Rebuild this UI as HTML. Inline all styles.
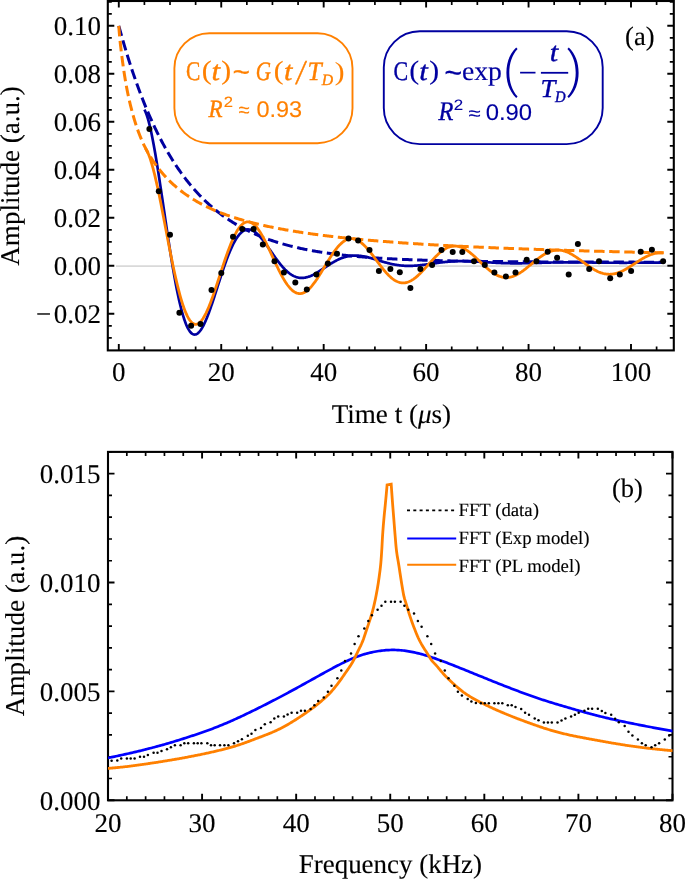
<!DOCTYPE html>
<html><head><meta charset="utf-8"><style>
html,body{margin:0;padding:0;background:#fff;}
svg{display:block;will-change:transform;text-rendering:geometricPrecision;}
</style></head><body>
<svg width="685" height="879" viewBox="0 0 685 879">
<path d="M116,266.1H667" stroke="#d9d9d9" stroke-width="1.8"/>
<path d="M118.8,25.8 119.71,29.14 120.62,32.42 121.53,35.67 122.44,38.86 123.35,42.01 124.26,45.12 125.17,48.18 126.08,51.2 126.99,54.18 127.9,57.12 128.81,60.01 129.72,62.86 130.63,65.67 131.54,68.45 132.45,71.18 133.36,73.88 134.27,76.53 135.18,79.15 136.09,81.74 137,84.28 137.91,86.79 138.82,89.27 139.73,91.71 140.64,94.11 141.55,96.49 142.46,98.82 143.37,101.13 144.27,103.4 145.18,105.64 146.09,107.85 147,110.03 147.91,112.18 148.82,114.29 149.73,116.38 150.64,118.44 151.55,120.47 152.46,122.47 153.37,124.44 154.28,126.38 155.19,128.3 156.1,130.19 157.01,132.05 157.92,133.89 158.83,135.7 159.74,137.48 160.65,139.24 161.56,140.98 162.47,142.69 163.38,144.37 164.29,146.04 165.2,147.67 166.11,149.29 167.02,150.88 167.93,152.45 168.84,154 169.75,155.53 170.66,157.03 171.57,158.52 172.48,159.98 173.39,161.42 174.3,162.85 175.21,164.25 176.12,165.63 177.03,166.99 177.94,168.34 178.85,169.66 179.76,170.97 180.67,172.25 181.58,173.52 182.49,174.77 183.4,176.01 184.31,177.22 185.22,178.42 186.13,179.6 187.04,180.77 187.95,181.92 188.86,183.05 189.77,184.17 190.68,185.27 191.59,186.35 192.5,187.42 193.41,188.48 194.31,189.52 195.22,190.55 196.13,191.56 197.04,192.55 197.95,193.54 198.86,194.5 199.77,195.46 200.68,196.4 201.59,197.33 202.5,198.25 203.41,199.15 204.32,200.04 205.23,200.91 206.14,201.78 207.05,202.63 207.96,203.47 208.87,204.3 209.78,205.12 210.69,205.92 211.6,206.72 212.51,207.5 213.42,208.27 214.33,209.03 215.24,209.78 216.15,210.52 217.06,211.25 217.97,211.97 218.88,212.68 219.79,213.38 220.7,214.07 221.61,214.75 222.52,215.42 223.43,216.08 224.34,216.73 225.25,217.37 226.16,218 227.07,218.62 227.98,219.24 228.89,219.85 229.8,220.44 230.71,221.03 231.62,221.61 232.53,222.19 233.44,222.75 234.35,223.31 235.26,223.86 236.17,224.4 237.08,224.93 237.99,225.46 238.9,225.97 239.81,226.49 240.72,226.99 241.63,227.49 242.54,227.98 243.45,228.46 244.35,228.94 245.26,229.4 246.17,229.87 247.08,230.32 247.99,230.77 248.9,231.22 249.81,231.65 250.72,232.08 251.63,232.51 252.54,232.93 253.45,233.34 254.36,233.75 255.27,234.15 256.18,234.55 257.09,234.94 258,235.32 258.91,235.7 259.82,236.07 260.73,236.44 261.64,236.81 262.55,237.16 263.46,237.52 264.37,237.87 265.28,238.21 266.19,238.55 267.1,238.88 268.01,239.21 268.92,239.54 269.83,239.85 270.74,240.17 271.65,240.48 272.56,240.79 273.47,241.09 274.38,241.39 275.29,241.68 276.2,241.97 277.11,242.26 278.02,242.54 278.93,242.81 279.84,243.09 280.75,243.36 281.66,243.62 282.57,243.89 283.48,244.14 284.39,244.4 285.3,244.65 286.21,244.9 287.12,245.14 288.03,245.38 288.94,245.62 289.85,245.85 290.76,246.08 291.67,246.31 292.58,246.54 293.48,246.76 294.39,246.98 295.3,247.19 296.21,247.4 297.12,247.61 298.03,247.82 298.94,248.02 299.85,248.22 300.76,248.42 301.67,248.61 302.58,248.8 303.49,248.99 304.4,249.18 305.31,249.36 306.22,249.54 307.13,249.72 308.04,249.9 308.95,250.07 309.86,250.24 310.77,250.41 311.68,250.58 312.59,250.74 313.5,250.9 314.41,251.06 315.32,251.22 316.23,251.37 317.14,251.53 318.05,251.68 318.96,251.83 319.87,251.97 320.78,252.12 321.69,252.26 322.6,252.4 323.51,252.54 324.42,252.67 325.33,252.81 326.24,252.94 327.15,253.07 328.06,253.2 328.97,253.33 329.88,253.45 330.79,253.58 331.7,253.7 332.61,253.82 333.52,253.94 334.43,254.05 335.34,254.17 336.25,254.28 337.16,254.39 338.07,254.5 338.98,254.61 339.89,254.72 340.8,254.82 341.71,254.93 342.62,255.03 343.52,255.13 344.43,255.23 345.34,255.33 346.25,255.43 347.16,255.52 348.07,255.62 348.98,255.71 349.89,255.8 350.8,255.89 351.71,255.98 352.62,256.07 353.53,256.15 354.44,256.24 355.35,256.32 356.26,256.41 357.17,256.49 358.08,256.57 358.99,256.65 359.9,256.73 360.81,256.8 361.72,256.88 362.63,256.96 363.54,257.03 364.45,257.1 365.36,257.17 366.27,257.25 367.18,257.32 368.09,257.38 369,257.45 369.91,257.52 370.82,257.59 371.73,257.65 372.64,257.71 373.55,257.78 374.46,257.84 375.37,257.9 376.28,257.96 377.19,258.02 378.1,258.08 379.01,258.14 379.92,258.2 380.83,258.25 381.74,258.31 382.65,258.36 383.56,258.42 384.47,258.47 385.38,258.52 386.29,258.58 387.2,258.63 388.11,258.68 389.02,258.73 389.93,258.78 390.84,258.82 391.75,258.87 392.66,258.92 393.56,258.97 394.47,259.01 395.38,259.06 396.29,259.1 397.2,259.14 398.11,259.19 399.02,259.23 399.93,259.27 400.84,259.31 401.75,259.35 402.66,259.39 403.57,259.43 404.48,259.47 405.39,259.51 406.3,259.55 407.21,259.59 408.12,259.62 409.03,259.66 409.94,259.7 410.85,259.73 411.76,259.77 412.67,259.8 413.58,259.83 414.49,259.87 415.4,259.9 416.31,259.93 417.22,259.96 418.13,260 419.04,260.03 419.95,260.06 420.86,260.09 421.77,260.12 422.68,260.15 423.59,260.18 424.5,260.2 425.41,260.23 426.32,260.26 427.23,260.29 428.14,260.31 429.05,260.34 429.96,260.37 430.87,260.39 431.78,260.42 432.69,260.44 433.6,260.47 434.51,260.49 435.42,260.52 436.33,260.54 437.24,260.56 438.15,260.59 439.06,260.61 439.97,260.63 440.88,260.65 441.79,260.68 442.7,260.7 443.6,260.72 444.51,260.74 445.42,260.76 446.33,260.78 447.24,260.8 448.15,260.82 449.06,260.84 449.97,260.86 450.88,260.88 451.79,260.9 452.7,260.92 453.61,260.93 454.52,260.95 455.43,260.97 456.34,260.99 457.25,261 458.16,261.02 459.07,261.04 459.98,261.05 460.89,261.07 461.8,261.09 462.71,261.1 463.62,261.12 464.53,261.13 465.44,261.15 466.35,261.16 467.26,261.18 468.17,261.19 469.08,261.21 469.99,261.22 470.9,261.23 471.81,261.25 472.72,261.26 473.63,261.27 474.54,261.29 475.45,261.3 476.36,261.31 477.27,261.32 478.18,261.34 479.09,261.35 480,261.36 480.91,261.37 481.82,261.38 482.73,261.4 483.64,261.41 484.55,261.42 485.46,261.43 486.37,261.44 487.28,261.45 488.19,261.46 489.1,261.47 490.01,261.48 490.92,261.49 491.83,261.5 492.74,261.51 493.64,261.52 494.55,261.53 495.46,261.54 496.37,261.55 497.28,261.56 498.19,261.57 499.1,261.58 500.01,261.59 500.92,261.6 501.83,261.6 502.74,261.61 503.65,261.62 504.56,261.63 505.47,261.64 506.38,261.64 507.29,261.65 508.2,261.66 509.11,261.67 510.02,261.68 510.93,261.68 511.84,261.69 512.75,261.7 513.66,261.7 514.57,261.71 515.48,261.72 516.39,261.72 517.3,261.73 518.21,261.74 519.12,261.74 520.03,261.75 520.94,261.76 521.85,261.76 522.76,261.77 523.67,261.78 524.58,261.78 525.49,261.79 526.4,261.79 527.31,261.8 528.22,261.81 529.13,261.81 530.04,261.82 530.95,261.82 531.86,261.83 532.77,261.83 533.68,261.84 534.59,261.84 535.5,261.85 536.41,261.85 537.32,261.86 538.23,261.86 539.14,261.87 540.05,261.87 540.96,261.88 541.87,261.88 542.78,261.89 543.68,261.89 544.59,261.89 545.5,261.9 546.41,261.9 547.32,261.91 548.23,261.91 549.14,261.92 550.05,261.92 550.96,261.92 551.87,261.93 552.78,261.93 553.69,261.93 554.6,261.94 555.51,261.94 556.42,261.95 557.33,261.95 558.24,261.95 559.15,261.96 560.06,261.96 560.97,261.96 561.88,261.97 562.79,261.97 563.7,261.97 564.61,261.98 565.52,261.98 566.43,261.98 567.34,261.99 568.25,261.99 569.16,261.99 570.07,261.99 570.98,262 571.89,262 572.8,262 573.71,262.01 574.62,262.01 575.53,262.01 576.44,262.01 577.35,262.02 578.26,262.02 579.17,262.02 580.08,262.02 580.99,262.03 581.9,262.03 582.81,262.03 583.72,262.03 584.63,262.04 585.54,262.04 586.45,262.04 587.36,262.04 588.27,262.05 589.18,262.05 590.09,262.05 591,262.05 591.91,262.05 592.82,262.06 593.72,262.06 594.63,262.06 595.54,262.06 596.45,262.06 597.36,262.07 598.27,262.07 599.18,262.07 600.09,262.07 601,262.07 601.91,262.08 602.82,262.08 603.73,262.08 604.64,262.08 605.55,262.08 606.46,262.08 607.37,262.09 608.28,262.09 609.19,262.09 610.1,262.09 611.01,262.09 611.92,262.09 612.83,262.09 613.74,262.1 614.65,262.1 615.56,262.1 616.47,262.1 617.38,262.1 618.29,262.1 619.2,262.1 620.11,262.11 621.02,262.11 621.93,262.11 622.84,262.11 623.75,262.11 624.66,262.11 625.57,262.11 626.48,262.11 627.39,262.12 628.3,262.12 629.21,262.12 630.12,262.12 631.03,262.12 631.94,262.12 632.85,262.12 633.76,262.12 634.67,262.13 635.58,262.13 636.49,262.13 637.4,262.13 638.31,262.13 639.22,262.13 640.13,262.13 641.04,262.13 641.95,262.13 642.85,262.13 643.76,262.14 644.67,262.14 645.58,262.14 646.49,262.14 647.4,262.14 648.31,262.14 649.22,262.14 650.13,262.14 651.04,262.14 651.95,262.14 652.86,262.14 653.77,262.14 654.68,262.15 655.59,262.15 656.5,262.15 657.41,262.15 658.32,262.15 659.23,262.15 660.14,262.15 661.05,262.15 661.96,262.15 662.87,262.15 663.78,262.15" fill="none" stroke="#0000a0" stroke-width="3.0" stroke-dasharray="10.5 4.6"/>
<path d="M144.41,109.61 144.99,110.72 145.56,111.99 146.14,113.42 146.72,115.01 147.3,116.75 147.87,118.63 148.45,120.66 149.03,122.83 149.6,125.13 150.18,127.56 150.76,130.11 151.34,132.77 151.91,135.55 152.49,138.44 153.07,141.43 153.64,144.52 154.22,147.7 154.8,150.96 155.38,154.3 155.95,157.72 156.53,161.22 157.11,164.77 157.68,168.38 158.26,172.05 158.84,175.77 159.42,179.53 159.99,183.33 160.57,187.16 161.15,191.02 161.72,194.9 162.3,198.8 162.88,202.71 163.46,206.63 164.03,210.55 164.61,214.47 165.19,218.38 165.76,222.28 166.34,226.17 166.92,230.03 167.5,233.87 168.07,237.68 168.65,241.46 169.23,245.2 169.8,248.9 170.38,252.56 170.96,256.17 171.54,259.72 172.11,263.22 172.69,266.67 173.27,270.05 173.84,273.36 174.42,276.61 175,279.78 175.58,282.89 176.15,285.92 176.73,288.87 177.31,291.73 177.88,294.52 178.46,297.22 179.04,299.84 179.62,302.36 180.19,304.8 180.77,307.15 181.35,309.4 181.92,311.56 182.5,313.63 183.08,315.6 183.66,317.47 184.23,319.24 184.81,320.92 185.39,322.5 185.96,323.98 186.54,325.37 187.12,326.65 187.7,327.84 188.27,328.92 188.85,329.91 189.43,330.81 190,331.6 190.58,332.3 191.16,332.9 191.74,333.41 192.31,333.82 192.89,334.15 193.47,334.38 194.04,334.52 194.62,334.57 195.2,334.53 195.78,334.41 196.35,334.2 196.93,333.91 197.51,333.53 198.09,333.08 198.66,332.55 199.24,331.95 199.82,331.27 200.39,330.52 200.97,329.7 201.55,328.82 202.13,327.86 202.7,326.85 203.28,325.77 203.86,324.64 204.43,323.45 205.01,322.21 205.59,320.91 206.17,319.57 206.74,318.18 207.32,316.74 207.9,315.27 208.47,313.75 209.05,312.2 209.63,310.61 210.21,309 210.78,307.35 211.36,305.68 211.94,303.98 212.51,302.26 213.09,300.52 213.67,298.77 214.25,297 214.82,295.21 215.4,293.42 215.98,291.62 216.55,289.82 217.13,288.01 217.71,286.2 218.29,284.39 218.86,282.59 219.44,280.79 220.02,279 220.59,277.22 221.17,275.45 221.75,273.7 222.33,271.96 222.9,270.24 223.48,268.54 224.06,266.86 224.63,265.2 225.21,263.57 225.79,261.96 226.37,260.38 226.94,258.83 227.52,257.3 228.1,255.82 228.67,254.36 229.25,252.94 229.83,251.55 230.41,250.2 230.98,248.88 231.56,247.61 232.14,246.37 232.71,245.18 233.29,244.02 233.87,242.91 234.45,241.84 235.02,240.81 235.6,239.82 236.18,238.88 236.75,237.98 237.33,237.13 237.91,236.32 238.49,235.56 239.06,234.84 239.64,234.17 240.22,233.55 240.79,232.96 241.37,232.43 241.95,231.94 242.53,231.49 243.1,231.09 243.68,230.74 244.26,230.43 244.83,230.16 245.41,229.94 245.99,229.76 246.57,229.62 247.14,229.52 247.72,229.47 248.3,229.46 248.87,229.48 249.45,229.55 250.03,229.66 250.61,229.8 251.18,229.98 251.76,230.2 252.34,230.45 252.91,230.74 253.49,231.06 254.07,231.41 254.65,231.8 255.22,232.22 255.8,232.66 256.38,233.14 256.95,233.64 257.53,234.17 258.11,234.72 258.69,235.3 259.26,235.91 259.84,236.53 260.42,237.18 260.99,237.85 261.57,238.53 262.15,239.23 262.73,239.95 263.3,240.69 263.88,241.44 264.46,242.2 265.03,242.98 265.61,243.76 266.19,244.56 266.77,245.36 267.34,246.17 267.92,246.99 268.5,247.81 269.07,248.64 269.65,249.47 270.23,250.3 270.81,251.14 271.38,251.97 271.96,252.81 272.54,253.64 273.11,254.46 273.69,255.29 274.27,256.11 274.85,256.92 275.42,257.73 276,258.53 276.58,259.32 277.15,260.1 277.73,260.88 278.31,261.64 278.89,262.39 279.46,263.13 280.04,263.85 280.62,264.56 281.19,265.26 281.77,265.95 282.35,266.61 282.93,267.27 283.5,267.9 284.08,268.52 284.66,269.12 285.23,269.71 285.81,270.27 286.39,270.82 286.97,271.35 287.54,271.86 288.12,272.34 288.7,272.81 289.27,273.26 289.85,273.69 290.43,274.1 291.01,274.49 291.58,274.86 292.16,275.2 292.74,275.53 293.31,275.83 293.89,276.12 294.47,276.38 295.05,276.62 295.62,276.84 296.2,277.04 296.78,277.22 297.35,277.38 297.93,277.52 298.51,277.64 299.09,277.73 299.66,277.81 300.24,277.87 300.82,277.91 301.4,277.93 301.97,277.93 302.55,277.91 303.13,277.88 303.7,277.83 304.28,277.76 304.86,277.67 305.44,277.56 306.01,277.44 306.59,277.31 307.17,277.15 307.74,276.99 308.32,276.81 308.9,276.61 309.48,276.4 310.05,276.18 310.63,275.94 311.21,275.7 311.78,275.44 312.36,275.17 312.94,274.89 313.52,274.6 314.09,274.29 314.67,273.98 315.25,273.67 315.82,273.34 316.4,273.01 316.98,272.67 317.56,272.32 318.13,271.97 318.71,271.61 319.29,271.24 319.86,270.88 320.44,270.5 321.02,270.13 321.6,269.75 322.17,269.37 322.75,268.99 323.33,268.61 323.9,268.22 324.48,267.84 325.06,267.45 325.64,267.07 326.21,266.68 326.79,266.3 327.37,265.92 327.94,265.55 328.52,265.17 329.1,264.8 329.68,264.43 330.25,264.07 330.83,263.71 331.41,263.35 331.98,263 332.56,262.66 333.14,262.32 333.72,261.99 334.29,261.66 334.87,261.34 335.45,261.03 336.02,260.72 336.6,260.42 337.18,260.13 337.76,259.85 338.33,259.57 338.91,259.3 339.49,259.04 340.06,258.79 340.64,258.55 341.22,258.32 341.8,258.1 342.37,257.88 342.95,257.68 343.53,257.48 344.1,257.3 344.68,257.12 345.26,256.95 345.84,256.8 346.41,256.65 346.99,256.51 347.57,256.38 348.14,256.26 348.72,256.15 349.3,256.05 349.88,255.96 350.45,255.88 351.03,255.81 351.61,255.75 352.18,255.7 352.76,255.66 353.34,255.62 353.92,255.6 354.49,255.58 355.07,255.58 355.65,255.58 356.22,255.59 356.8,255.61 357.38,255.63 357.96,255.67 358.53,255.71 359.11,255.76 359.69,255.82 360.26,255.88 360.84,255.95 361.42,256.03 362,256.12 362.57,256.21 363.15,256.31 363.73,256.41 364.3,256.52 364.88,256.64 365.46,256.76 366.04,256.88 366.61,257.01 367.19,257.15 367.77,257.29 368.34,257.43 368.92,257.58 369.5,257.73 370.08,257.89 370.65,258.04 371.23,258.21 371.81,258.37 372.38,258.53 372.96,258.7 373.54,258.87 374.12,259.04 374.69,259.22 375.27,259.39 375.85,259.57 376.42,259.74 377,259.92 377.58,260.1 378.16,260.28 378.73,260.45 379.31,260.63 379.89,260.81 380.46,260.98 381.04,261.16 381.62,261.33 382.2,261.5 382.77,261.67 383.35,261.84 383.93,262.01 384.5,262.18 385.08,262.34 385.66,262.5 386.24,262.66 386.81,262.82 387.39,262.97 387.97,263.12 388.54,263.27 389.12,263.41 389.7,263.55 390.28,263.69 390.85,263.82 391.43,263.95 392.01,264.08 392.58,264.2 393.16,264.32 393.74,264.43 394.32,264.54 394.89,264.65 395.47,264.75 396.05,264.85 396.62,264.94 397.2,265.03 397.78,265.11 398.36,265.19 398.93,265.27 399.51,265.34 400.09,265.41 400.66,265.47 401.24,265.53 401.82,265.58 402.4,265.63 402.97,265.68 403.55,265.72 404.13,265.75 404.71,265.78 405.28,265.81 405.86,265.83 406.44,265.85 407.01,265.87 407.59,265.88 408.17,265.88 408.75,265.89 409.32,265.88 409.9,265.88 410.48,265.87 411.05,265.86 411.63,265.84 412.21,265.82 412.79,265.8 413.36,265.77 413.94,265.74 414.52,265.7 415.09,265.67 415.67,265.63 416.25,265.58 416.83,265.54 417.4,265.49 417.98,265.44 418.56,265.38 419.13,265.33 419.71,265.27 420.29,265.21 420.87,265.14 421.44,265.08 422.02,265.01 422.6,264.94 423.17,264.87 423.75,264.8 424.33,264.73 424.91,264.65 425.48,264.58 426.06,264.5 426.64,264.42 427.21,264.35 427.79,264.27 428.37,264.19 428.95,264.11 429.52,264.02 430.1,263.94 430.68,263.86 431.25,263.78 431.83,263.7 432.41,263.62 432.99,263.53 433.56,263.45 434.14,263.37 434.72,263.29 435.29,263.21 435.87,263.13 436.45,263.05 437.03,262.98 437.6,262.9 438.18,262.82 438.76,262.75 439.33,262.67 439.91,262.6 440.49,262.53 441.07,262.46 441.64,262.39 442.22,262.32 442.8,262.26 443.37,262.19 443.95,262.13 444.53,262.07 445.11,262.01 445.68,261.95 446.26,261.9 446.84,261.84 447.41,261.79 447.99,261.74 448.57,261.69 449.15,261.64 449.72,261.6 450.3,261.56 450.88,261.52 451.45,261.48 452.03,261.44 452.61,261.41 453.19,261.37 453.76,261.34 454.34,261.32 454.92,261.29 455.49,261.27 456.07,261.24 456.65,261.22 457.23,261.2 457.8,261.19 458.38,261.17 458.96,261.16 459.53,261.15 460.11,261.14 460.69,261.14 461.27,261.13 461.84,261.13 462.42,261.13 463,261.13 463.57,261.14 464.15,261.14 464.73,261.15 465.31,261.15 465.88,261.16 466.46,261.18 467.04,261.19 467.61,261.2 468.19,261.22 468.77,261.24 469.35,261.26 469.92,261.28 470.5,261.3 471.08,261.32 471.65,261.34 472.23,261.37 472.81,261.4 473.39,261.42 473.96,261.45 474.54,261.48 475.12,261.51 475.69,261.54 476.27,261.57 476.85,261.61 477.43,261.64 478,261.67 478.58,261.71 479.16,261.74 479.73,261.78 480.31,261.81 480.89,261.85 481.47,261.89 482.04,261.92 482.62,261.96 483.2,262 483.77,262.04 484.35,262.07 484.93,262.11 485.51,262.15 486.08,262.19 486.66,262.23 487.24,262.26 487.81,262.3 488.39,262.34 488.97,262.37 489.55,262.41 490.12,262.45 490.7,262.48 491.28,262.52 491.85,262.55 492.43,262.59 493.01,262.62 493.59,262.65 494.16,262.69 494.74,262.72 495.32,262.75 495.89,262.78 496.47,262.81 497.05,262.84 497.63,262.87 498.2,262.9 498.78,262.93 499.36,262.95 499.93,262.98 500.51,263 501.09,263.03 501.67,263.05 502.24,263.07 502.82,263.09 503.4,263.11 503.97,263.13 504.55,263.15 505.13,263.17 505.71,263.19 506.28,263.2 506.86,263.22 507.44,263.23 508.02,263.24 508.59,263.25 509.17,263.26 509.75,263.27 510.32,263.28 510.9,263.29 511.48,263.3 512.06,263.31 512.63,263.31 513.21,263.32 513.79,263.32 514.36,263.32 514.94,263.32 515.52,263.32 516.1,263.32 516.67,263.32 517.25,263.32 517.83,263.32 518.4,263.32 518.98,263.31 519.56,263.31 520.14,263.3 520.71,263.3 521.29,263.29 521.87,263.28 522.44,263.27 523.02,263.26 523.6,263.25 524.18,263.24 524.75,263.23 525.33,263.22 525.91,263.21 526.48,263.2 527.06,263.19 527.64,263.17 528.22,263.16 528.79,263.15 529.37,263.13 529.95,263.12 530.52,263.1 531.1,263.09 531.68,263.07 532.26,263.05 532.83,263.04 533.41,263.02 533.99,263 534.56,262.99 535.14,262.97 535.72,262.95 536.3,262.94 536.87,262.92 537.45,262.9 538.03,262.88 538.6,262.87 539.18,262.85 539.76,262.83 540.34,262.82 540.91,262.8 541.49,262.78 542.07,262.76 542.64,262.75 543.22,262.73 543.8,262.71 544.38,262.7 544.95,262.68 545.53,262.66 546.11,262.65 546.68,262.63 547.26,262.62 547.84,262.6 548.42,262.59 548.99,262.57 549.57,262.56 550.15,262.55 550.72,262.53 551.3,262.52 551.88,262.51 552.46,262.49 553.03,262.48 553.61,262.47 554.19,262.46 554.76,262.45 555.34,262.44 555.92,262.43 556.5,262.42 557.07,262.41 557.65,262.4 558.23,262.39 558.8,262.38 559.38,262.38 559.96,262.37 560.54,262.36 561.11,262.35 561.69,262.35 562.27,262.34 562.84,262.34 563.42,262.33 564,262.33 564.58,262.33 565.15,262.32 565.73,262.32 566.31,262.32 566.88,262.32 567.46,262.31 568.04,262.31 568.62,262.31 569.19,262.31 569.77,262.31 570.35,262.31 570.92,262.31 571.5,262.32 572.08,262.32 572.66,262.32 573.23,262.32 573.81,262.32 574.39,262.33 574.96,262.33 575.54,262.33 576.12,262.34 576.7,262.34 577.27,262.35 577.85,262.35 578.43,262.36 579,262.36 579.58,262.37 580.16,262.37 580.74,262.38 581.31,262.38 581.89,262.39 582.47,262.4 583.04,262.4 583.62,262.41 584.2,262.42 584.78,262.42 585.35,262.43 585.93,262.44 586.51,262.45 587.08,262.45 587.66,262.46 588.24,262.47 588.82,262.48 589.39,262.49 589.97,262.49 590.55,262.5 591.12,262.51 591.7,262.52 592.28,262.53 592.86,262.53 593.43,262.54 594.01,262.55 594.59,262.56 595.16,262.57 595.74,262.57 596.32,262.58 596.9,262.59 597.47,262.6 598.05,262.6 598.63,262.61 599.2,262.62 599.78,262.63 600.36,262.63 600.94,262.64 601.51,262.65 602.09,262.65 602.67,262.66 603.24,262.67 603.82,262.67 604.4,262.68 604.98,262.69 605.55,262.69 606.13,262.7 606.71,262.7 607.28,262.71 607.86,262.71 608.44,262.72 609.02,262.72 609.59,262.73 610.17,262.73 610.75,262.74 611.33,262.74 611.9,262.74 612.48,262.75 613.06,262.75 613.63,262.75 614.21,262.76 614.79,262.76 615.37,262.76 615.94,262.77 616.52,262.77 617.1,262.77 617.67,262.77 618.25,262.77 618.83,262.77 619.41,262.78 619.98,262.78 620.56,262.78 621.14,262.78 621.71,262.78 622.29,262.78 622.87,262.78 623.45,262.78 624.02,262.78 624.6,262.78 625.18,262.78 625.75,262.78 626.33,262.78 626.91,262.78 627.49,262.77 628.06,262.77 628.64,262.77 629.22,262.77 629.79,262.77 630.37,262.77 630.95,262.76 631.53,262.76 632.1,262.76 632.68,262.76 633.26,262.75 633.83,262.75 634.41,262.75 634.99,262.75 635.57,262.74 636.14,262.74 636.72,262.74 637.3,262.73 637.87,262.73 638.45,262.73 639.03,262.72 639.61,262.72 640.18,262.72 640.76,262.71 641.34,262.71 641.91,262.71 642.49,262.7 643.07,262.7 643.65,262.69 644.22,262.69 644.8,262.69 645.38,262.68 645.95,262.68 646.53,262.68 647.11,262.67 647.69,262.67 648.26,262.67 648.84,262.66 649.42,262.66 649.99,262.65 650.57,262.65 651.15,262.65 651.73,262.64 652.3,262.64 652.88,262.64 653.46,262.63 654.03,262.63 654.61,262.63 655.19,262.62 655.77,262.62 656.34,262.62 656.92,262.62 657.5,262.61 658.07,262.61 658.65,262.61 659.23,262.6 659.81,262.6 660.38,262.6 660.96,262.6 661.54,262.59 662.11,262.59 662.69,262.59 663.27,262.59" fill="none" stroke="#0000a0" stroke-width="2.7"/>
<path d="M118.8,25.9 118.93,27.8 119.06,29.6 119.19,31.31 119.32,32.92 119.45,34.46 119.57,35.93 119.7,37.34 119.83,38.7 119.96,40.01 120.09,41.28 120.22,42.52 120.35,43.72 120.48,44.9 120.61,46.05 120.74,47.18 120.87,48.29 121,49.38 121.12,50.46 121.25,51.52 121.38,52.57 121.51,53.6 121.64,54.63 121.77,55.64 121.9,56.64 122.03,57.63 122.16,58.61 122.29,59.58 122.42,60.55 122.54,61.51 122.67,62.46 122.8,63.4 122.93,64.33 123.06,65.26 123.19,66.18 123.32,67.09 123.45,67.99 123.58,68.88 123.71,69.77 123.84,70.64 123.97,71.51 124.09,72.36 124.22,73.21 124.35,74.05 124.48,74.88 124.61,75.7 124.74,76.51 124.87,77.31 125,78.11 125.13,78.89 125.26,79.67 125.39,80.43 125.51,81.19 125.64,81.94 125.77,82.69 125.9,83.42 126.03,84.15 126.16,84.87 126.29,85.58 126.42,86.29 126.55,86.98 126.68,87.67 126.81,88.36 126.93,89.03 127.06,89.7 127.19,90.36 127.32,91.02 127.45,91.67 127.58,92.31 127.71,92.95 127.84,93.58 127.97,94.2 128.1,94.82 128.23,95.43 128.36,96.04 128.48,96.64 128.61,97.24 128.74,97.83 128.87,98.42 129,99 129.13,99.58 129.26,100.15 129.39,100.72 129.52,101.28 129.65,101.84 129.78,102.39 129.9,102.94 130.03,103.48 130.16,104.02 130.29,104.56 130.42,105.09 130.55,105.62 130.68,106.14 130.81,106.66 130.94,107.18 131.07,107.69 131.2,108.2 131.33,108.71 131.45,109.21 131.58,109.71 131.71,110.2 131.84,110.69 131.97,111.18 132.1,111.66 132.23,112.14 132.36,112.62 132.49,113.09 132.62,113.57 132.75,114.03 132.87,114.5 133,114.96 133.13,115.42 133.26,115.87 133.39,116.32 133.52,116.77 133.65,117.22 133.78,117.66 133.91,118.1 134.04,118.54 134.17,118.98 134.42,119.83 135.48,123.26 136.54,126.51 137.6,129.6 138.67,132.53 139.73,135.29 140.79,137.92 141.85,140.41 142.91,142.77 143.97,145.03 145.03,147.18 146.09,149.24 147.15,151.21 148.21,153.1 149.27,154.92 150.33,156.68 151.4,158.38 152.46,160.02 153.52,161.61 154.58,163.15 155.64,164.64 156.7,166.09 157.76,167.5 158.82,168.87 159.88,170.2 160.94,171.5 162,172.76 163.06,174 164.13,175.2 165.19,176.37 166.25,177.51 167.31,178.63 168.37,179.71 169.43,180.78 170.49,181.81 171.55,182.83 172.61,183.82 173.67,184.78 174.73,185.73 175.79,186.65 176.86,187.56 177.92,188.44 178.98,189.31 180.04,190.15 181.1,190.98 182.16,191.79 183.22,192.59 184.28,193.36 185.34,194.12 186.4,194.87 187.46,195.6 188.52,196.32 189.59,197.02 190.65,197.71 191.71,198.39 192.77,199.05 193.83,199.7 194.89,200.34 195.95,200.97 197.01,201.58 198.07,202.19 199.13,202.78 200.19,203.36 201.25,203.93 202.32,204.49 203.38,205.05 204.44,205.59 205.5,206.12 206.56,206.64 207.62,207.16 208.68,207.66 209.74,208.15 210.8,208.64 211.86,209.12 212.92,209.59 213.99,210.05 215.05,210.51 216.11,210.95 217.17,211.39 218.23,211.82 219.29,212.25 220.35,212.67 221.41,213.08 222.47,213.48 223.53,213.88 224.59,214.27 225.65,214.66 226.72,215.04 227.78,215.41 228.84,215.78 229.9,216.14 230.96,216.5 232.02,216.85 233.08,217.2 234.14,217.54 235.2,217.88 236.26,218.22 237.32,218.54 238.38,218.87 239.45,219.19 240.51,219.5 241.57,219.81 242.63,220.12 243.69,220.42 244.75,220.72 245.81,221.01 246.87,221.3 247.93,221.59 248.99,221.87 250.05,222.15 251.11,222.43 252.18,222.7 253.24,222.97 254.3,223.23 255.36,223.5 256.42,223.75 257.48,224.01 258.54,224.26 259.6,224.51 260.66,224.76 261.72,225 262.78,225.24 263.84,225.48 264.91,225.72 265.97,225.95 267.03,226.18 268.09,226.41 269.15,226.63 270.21,226.85 271.27,227.07 272.33,227.29 273.39,227.5 274.45,227.72 275.51,227.93 276.57,228.13 277.64,228.34 278.7,228.54 279.76,228.74 280.82,228.94 281.88,229.14 282.94,229.33 284,229.53 285.06,229.72 286.12,229.9 287.18,230.09 288.24,230.27 289.3,230.46 290.37,230.64 291.43,230.82 292.49,230.99 293.55,231.17 294.61,231.34 295.67,231.51 296.73,231.68 297.79,231.85 298.85,232.01 299.91,232.18 300.97,232.34 302.03,232.5 303.1,232.66 304.16,232.82 305.22,232.98 306.28,233.13 307.34,233.28 308.4,233.43 309.46,233.59 310.52,233.73 311.58,233.88 312.64,234.03 313.7,234.17 314.76,234.32 315.83,234.46 316.89,234.6 317.95,234.74 319.01,234.88 320.07,235.01 321.13,235.15 322.19,235.28 323.25,235.42 324.31,235.55 325.37,235.68 326.43,235.81 327.49,235.94 328.56,236.06 329.62,236.19 330.68,236.32 331.74,236.44 332.8,236.56 333.86,236.69 334.92,236.81 335.98,236.93 337.04,237.05 338.1,237.16 339.16,237.28 340.22,237.4 341.29,237.51 342.35,237.63 343.41,237.74 344.47,237.85 345.53,237.96 346.59,238.08 347.65,238.19 348.71,238.29 349.77,238.4 350.83,238.51 351.89,238.62 352.95,238.72 354.02,238.83 355.08,238.93 356.14,239.03 357.2,239.14 358.26,239.24 359.32,239.34 360.38,239.44 361.44,239.54 362.5,239.63 363.56,239.73 364.62,239.83 365.69,239.93 366.75,240.02 367.81,240.12 368.87,240.21 369.93,240.3 370.99,240.4 372.05,240.49 373.11,240.58 374.17,240.67 375.23,240.76 376.29,240.85 377.35,240.94 378.42,241.02 379.48,241.11 380.54,241.2 381.6,241.28 382.66,241.37 383.72,241.45 384.78,241.54 385.84,241.62 386.9,241.7 387.96,241.79 389.02,241.87 390.08,241.95 391.15,242.03 392.21,242.11 393.27,242.19 394.33,242.27 395.39,242.35 396.45,242.42 397.51,242.5 398.57,242.58 399.63,242.65 400.69,242.73 401.75,242.8 402.81,242.88 403.88,242.95 404.94,243.03 406,243.1 407.06,243.17 408.12,243.24 409.18,243.31 410.24,243.39 411.3,243.46 412.36,243.53 413.42,243.6 414.48,243.66 415.54,243.73 416.61,243.8 417.67,243.87 418.73,243.94 419.79,244 420.85,244.07 421.91,244.14 422.97,244.2 424.03,244.27 425.09,244.33 426.15,244.39 427.21,244.46 428.27,244.52 429.34,244.58 430.4,244.65 431.46,244.71 432.52,244.77 433.58,244.83 434.64,244.89 435.7,244.95 436.76,245.01 437.82,245.07 438.88,245.13 439.94,245.19 441,245.25 442.07,245.31 443.13,245.37 444.19,245.43 445.25,245.48 446.31,245.54 447.37,245.6 448.43,245.65 449.49,245.71 450.55,245.76 451.61,245.82 452.67,245.87 453.73,245.93 454.8,245.98 455.86,246.04 456.92,246.09 457.98,246.14 459.04,246.2 460.1,246.25 461.16,246.3 462.22,246.36 463.28,246.41 464.34,246.46 465.4,246.51 466.46,246.56 467.53,246.61 468.59,246.66 469.65,246.71 470.71,246.76 471.77,246.81 472.83,246.86 473.89,246.91 474.95,246.96 476.01,247.01 477.07,247.06 478.13,247.1 479.19,247.15 480.26,247.2 481.32,247.25 482.38,247.29 483.44,247.34 484.5,247.39 485.56,247.43 486.62,247.48 487.68,247.52 488.74,247.57 489.8,247.61 490.86,247.66 491.92,247.7 492.99,247.75 494.05,247.79 495.11,247.84 496.17,247.88 497.23,247.92 498.29,247.97 499.35,248.01 500.41,248.05 501.47,248.1 502.53,248.14 503.59,248.18 504.65,248.22 505.72,248.27 506.78,248.31 507.84,248.35 508.9,248.39 509.96,248.43 511.02,248.47 512.08,248.51 513.14,248.55 514.2,248.59 515.26,248.63 516.32,248.67 517.39,248.71 518.45,248.75 519.51,248.79 520.57,248.83 521.63,248.87 522.69,248.91 523.75,248.95 524.81,248.98 525.87,249.02 526.93,249.06 527.99,249.1 529.05,249.14 530.12,249.17 531.18,249.21 532.24,249.25 533.3,249.29 534.36,249.32 535.42,249.36 536.48,249.4 537.54,249.43 538.6,249.47 539.66,249.5 540.72,249.54 541.78,249.58 542.85,249.61 543.91,249.65 544.97,249.68 546.03,249.72 547.09,249.75 548.15,249.79 549.21,249.82 550.27,249.85 551.33,249.89 552.39,249.92 553.45,249.96 554.51,249.99 555.58,250.02 556.64,250.06 557.7,250.09 558.76,250.12 559.82,250.16 560.88,250.19 561.94,250.22 563,250.26 564.06,250.29 565.12,250.32 566.18,250.35 567.24,250.38 568.31,250.42 569.37,250.45 570.43,250.48 571.49,250.51 572.55,250.54 573.61,250.57 574.67,250.61 575.73,250.64 576.79,250.67 577.85,250.7 578.91,250.73 579.97,250.76 581.04,250.79 582.1,250.82 583.16,250.85 584.22,250.88 585.28,250.91 586.34,250.94 587.4,250.97 588.46,251 589.52,251.03 590.58,251.06 591.64,251.08 592.7,251.11 593.77,251.14 594.83,251.17 595.89,251.2 596.95,251.23 598.01,251.26 599.07,251.28 600.13,251.31 601.19,251.34 602.25,251.37 603.31,251.4 604.37,251.42 605.43,251.45 606.5,251.48 607.56,251.51 608.62,251.53 609.68,251.56 610.74,251.59 611.8,251.61 612.86,251.64 613.92,251.67 614.98,251.69 616.04,251.72 617.1,251.75 618.16,251.77 619.23,251.8 620.29,251.82 621.35,251.85 622.41,251.88 623.47,251.9 624.53,251.93 625.59,251.95 626.65,251.98 627.71,252 628.77,252.03 629.83,252.05 630.89,252.08 631.96,252.1 633.02,252.13 634.08,252.15 635.14,252.18 636.2,252.2 637.26,252.23 638.32,252.25 639.38,252.27 640.44,252.3 641.5,252.32 642.56,252.35 643.62,252.37 644.69,252.39 645.75,252.42 646.81,252.44 647.87,252.46 648.93,252.49 649.99,252.51 651.05,252.53 652.11,252.56 653.17,252.58 654.23,252.6 655.29,252.62 656.35,252.65 657.42,252.67 658.48,252.69 659.54,252.72 660.6,252.74 661.66,252.76 662.72,252.78 663.78,252.8" fill="none" stroke="#ff8000" stroke-width="3.0" stroke-dasharray="10.5 4.6"/>
<path d="M145.43,148.32 146.01,149.19 146.59,150.17 147.16,151.27 147.74,152.48 148.31,153.8 148.89,155.23 149.47,156.76 150.04,158.4 150.62,160.13 151.19,161.96 151.77,163.87 152.35,165.88 152.92,167.97 153.5,170.14 154.07,172.39 154.65,174.71 155.23,177.11 155.8,179.57 156.38,182.09 156.95,184.67 157.53,187.31 158.11,189.99 158.68,192.73 159.26,195.51 159.83,198.33 160.41,201.19 160.99,204.08 161.56,206.99 162.14,209.94 162.71,212.9 163.29,215.88 163.87,218.88 164.44,221.89 165.02,224.9 165.59,227.92 166.17,230.94 166.75,233.95 167.32,236.96 167.9,239.96 168.47,242.94 169.05,245.91 169.63,248.86 170.2,251.78 170.78,254.68 171.35,257.54 171.93,260.38 172.51,263.18 173.08,265.94 173.66,268.67 174.23,271.35 174.81,273.98 175.39,276.57 175.96,279.1 176.54,281.59 177.12,284.01 177.69,286.38 178.27,288.7 178.84,290.95 179.42,293.14 180,295.26 180.57,297.32 181.15,299.31 181.72,301.23 182.3,303.08 182.88,304.85 183.45,306.56 184.03,308.19 184.6,309.74 185.18,311.22 185.76,312.62 186.33,313.95 186.91,315.19 187.48,316.36 188.06,317.44 188.64,318.45 189.21,319.38 189.79,320.22 190.36,320.99 190.94,321.68 191.52,322.28 192.09,322.81 192.67,323.25 193.24,323.62 193.82,323.91 194.4,324.12 194.97,324.25 195.55,324.3 196.12,324.28 196.7,324.18 197.28,324.01 197.85,323.77 198.43,323.45 199,323.06 199.58,322.6 200.16,322.07 200.73,321.48 201.31,320.82 201.88,320.09 202.46,319.3 203.04,318.45 203.61,317.54 204.19,316.57 204.76,315.55 205.34,314.47 205.92,313.34 206.49,312.16 207.07,310.93 207.64,309.65 208.22,308.33 208.8,306.96 209.37,305.56 209.95,304.11 210.52,302.63 211.1,301.11 211.68,299.56 212.25,297.98 212.83,296.38 213.4,294.74 213.98,293.09 214.56,291.41 215.13,289.71 215.71,287.99 216.28,286.26 216.86,284.52 217.44,282.77 218.01,281 218.59,279.24 219.16,277.46 219.74,275.69 220.32,273.91 220.89,272.14 221.47,270.38 222.04,268.61 222.62,266.86 223.2,265.12 223.77,263.39 224.35,261.67 224.92,259.98 225.5,258.29 226.08,256.63 226.65,255 227.23,253.38 227.8,251.79 228.38,250.23 228.96,248.7 229.53,247.19 230.11,245.72 230.68,244.28 231.26,242.88 231.84,241.52 232.41,240.19 232.99,238.9 233.56,237.65 234.14,236.44 234.72,235.27 235.29,234.15 235.87,233.07 236.44,232.04 237.02,231.05 237.6,230.11 238.17,229.22 238.75,228.38 239.32,227.58 239.9,226.84 240.48,226.15 241.05,225.5 241.63,224.91 242.2,224.37 242.78,223.88 243.36,223.45 243.93,223.06 244.51,222.73 245.08,222.45 245.66,222.22 246.24,222.04 246.81,221.92 247.39,221.84 247.96,221.82 248.54,221.85 249.12,221.93 249.69,222.06 250.27,222.23 250.84,222.46 251.42,222.74 252,223.06 252.57,223.43 253.15,223.84 253.72,224.31 254.3,224.81 254.88,225.36 255.45,225.95 256.03,226.58 256.6,227.25 257.18,227.97 257.76,228.71 258.33,229.5 258.91,230.32 259.48,231.18 260.06,232.07 260.64,232.99 261.21,233.94 261.79,234.92 262.36,235.93 262.94,236.97 263.52,238.03 264.09,239.11 264.67,240.22 265.24,241.34 265.82,242.49 266.4,243.65 266.97,244.83 267.55,246.02 268.12,247.23 268.7,248.45 269.28,249.67 269.85,250.91 270.43,252.15 271,253.39 271.58,254.64 272.16,255.9 272.73,257.15 273.31,258.4 273.88,259.65 274.46,260.89 275.04,262.13 275.61,263.36 276.19,264.59 276.76,265.8 277.34,267 277.92,268.19 278.49,269.37 279.07,270.53 279.65,271.67 280.22,272.8 280.8,273.9 281.37,274.99 281.95,276.05 282.53,277.09 283.1,278.11 283.68,279.1 284.25,280.07 284.83,281 285.41,281.91 285.98,282.8 286.56,283.65 287.13,284.47 287.71,285.26 288.29,286.01 288.86,286.74 289.44,287.43 290.01,288.08 290.59,288.7 291.17,289.29 291.74,289.84 292.32,290.35 292.89,290.83 293.47,291.27 294.05,291.67 294.62,292.03 295.2,292.35 295.77,292.64 296.35,292.89 296.93,293.1 297.5,293.27 298.08,293.41 298.65,293.5 299.23,293.56 299.81,293.58 300.38,293.56 300.96,293.5 301.53,293.41 302.11,293.27 302.69,293.11 303.26,292.9 303.84,292.66 304.41,292.39 304.99,292.08 305.57,291.73 306.14,291.35 306.72,290.94 307.29,290.5 307.87,290.02 308.45,289.52 309.02,288.98 309.6,288.42 310.17,287.83 310.75,287.21 311.33,286.56 311.9,285.89 312.48,285.19 313.05,284.47 313.63,283.72 314.21,282.96 314.78,282.17 315.36,281.37 315.93,280.54 316.51,279.7 317.09,278.85 317.66,277.97 318.24,277.09 318.81,276.19 319.39,275.28 319.97,274.36 320.54,273.43 321.12,272.49 321.69,271.54 322.27,270.59 322.85,269.64 323.42,268.68 324,267.72 324.57,266.76 325.15,265.8 325.73,264.84 326.3,263.88 326.88,262.93 327.45,261.98 328.03,261.03 328.61,260.1 329.18,259.17 329.76,258.25 330.33,257.35 330.91,256.45 331.49,255.57 332.06,254.7 332.64,253.84 333.21,253 333.79,252.18 334.37,251.37 334.94,250.59 335.52,249.82 336.09,249.07 336.67,248.34 337.25,247.64 337.82,246.95 338.4,246.29 338.97,245.66 339.55,245.04 340.13,244.46 340.7,243.89 341.28,243.36 341.85,242.85 342.43,242.37 343.01,241.92 343.58,241.49 344.16,241.09 344.73,240.73 345.31,240.39 345.89,240.08 346.46,239.8 347.04,239.55 347.61,239.33 348.19,239.14 348.77,238.98 349.34,238.85 349.92,238.75 350.49,238.68 351.07,238.64 351.65,238.63 352.22,238.66 352.8,238.71 353.37,238.79 353.95,238.9 354.53,239.04 355.1,239.21 355.68,239.4 356.25,239.63 356.83,239.88 357.41,240.16 357.98,240.47 358.56,240.8 359.13,241.16 359.71,241.55 360.29,241.95 360.86,242.39 361.44,242.84 362.01,243.32 362.59,243.82 363.17,244.34 363.74,244.89 364.32,245.45 364.89,246.03 365.47,246.63 366.05,247.25 366.62,247.88 367.2,248.53 367.77,249.19 368.35,249.87 368.93,250.56 369.5,251.26 370.08,251.98 370.65,252.7 371.23,253.44 371.81,254.18 372.38,254.93 372.96,255.69 373.53,256.45 374.11,257.22 374.69,257.99 375.26,258.76 375.84,259.54 376.41,260.31 376.99,261.09 377.57,261.86 378.14,262.63 378.72,263.4 379.3,264.17 379.87,264.93 380.45,265.68 381.02,266.43 381.6,267.17 382.18,267.9 382.75,268.63 383.33,269.34 383.9,270.04 384.48,270.73 385.06,271.41 385.63,272.07 386.21,272.72 386.78,273.36 387.36,273.98 387.94,274.58 388.51,275.17 389.09,275.74 389.66,276.29 390.24,276.82 390.82,277.33 391.39,277.83 391.97,278.3 392.54,278.75 393.12,279.18 393.7,279.59 394.27,279.97 394.85,280.34 395.42,280.68 396,280.99 396.58,281.29 397.15,281.56 397.73,281.8 398.3,282.02 398.88,282.22 399.46,282.39 400.03,282.54 400.61,282.66 401.18,282.76 401.76,282.83 402.34,282.88 402.91,282.9 403.49,282.9 404.06,282.87 404.64,282.82 405.22,282.75 405.79,282.65 406.37,282.53 406.94,282.38 407.52,282.21 408.1,282.02 408.67,281.8 409.25,281.56 409.82,281.3 410.4,281.02 410.98,280.71 411.55,280.39 412.13,280.04 412.7,279.68 413.28,279.3 413.86,278.89 414.43,278.47 415.01,278.03 415.58,277.58 416.16,277.11 416.74,276.62 417.31,276.12 417.89,275.6 418.46,275.07 419.04,274.53 419.62,273.97 420.19,273.41 420.77,272.83 421.34,272.24 421.92,271.64 422.5,271.04 423.07,270.42 423.65,269.8 424.22,269.18 424.8,268.55 425.38,267.91 425.95,267.27 426.53,266.63 427.1,265.98 427.68,265.34 428.26,264.69 428.83,264.04 429.41,263.4 429.98,262.75 430.56,262.11 431.14,261.47 431.71,260.84 432.29,260.21 432.86,259.59 433.44,258.97 434.02,258.36 434.59,257.76 435.17,257.16 435.74,256.58 436.32,256.01 436.9,255.44 437.47,254.89 438.05,254.35 438.62,253.82 439.2,253.31 439.78,252.81 440.35,252.32 440.93,251.85 441.5,251.39 442.08,250.95 442.66,250.53 443.23,250.12 443.81,249.73 444.38,249.36 444.96,249 445.54,248.67 446.11,248.35 446.69,248.05 447.26,247.77 447.84,247.51 448.42,247.27 448.99,247.05 449.57,246.86 450.14,246.68 450.72,246.52 451.3,246.38 451.87,246.27 452.45,246.17 453.02,246.1 453.6,246.05 454.18,246.01 454.75,246 455.33,246.01 455.9,246.04 456.48,246.1 457.06,246.17 457.63,246.26 458.21,246.37 458.78,246.51 459.36,246.66 459.94,246.83 460.51,247.02 461.09,247.23 461.66,247.46 462.24,247.71 462.82,247.97 463.39,248.26 463.97,248.56 464.54,248.87 465.12,249.21 465.7,249.56 466.27,249.92 466.85,250.3 467.42,250.69 468,251.1 468.58,251.52 469.15,251.95 469.73,252.4 470.3,252.85 470.88,253.32 471.46,253.8 472.03,254.29 472.61,254.78 473.18,255.29 473.76,255.8 474.34,256.32 474.91,256.85 475.49,257.38 476.06,257.91 476.64,258.46 477.22,259 477.79,259.55 478.37,260.1 478.94,260.65 479.52,261.2 480.1,261.76 480.67,262.31 481.25,262.86 481.83,263.41 482.4,263.96 482.98,264.5 483.55,265.05 484.13,265.58 484.71,266.11 485.28,266.64 485.86,267.16 486.43,267.67 487.01,268.18 487.59,268.68 488.16,269.16 488.74,269.64 489.31,270.11 489.89,270.57 490.47,271.02 491.04,271.46 491.62,271.88 492.19,272.29 492.77,272.69 493.35,273.08 493.92,273.45 494.5,273.81 495.07,274.15 495.65,274.48 496.23,274.79 496.8,275.09 497.38,275.37 497.95,275.64 498.53,275.89 499.11,276.12 499.68,276.34 500.26,276.53 500.83,276.71 501.41,276.88 501.99,277.02 502.56,277.15 503.14,277.26 503.71,277.35 504.29,277.42 504.87,277.48 505.44,277.52 506.02,277.53 506.59,277.53 507.17,277.52 507.75,277.48 508.32,277.43 508.9,277.36 509.47,277.27 510.05,277.16 510.63,277.04 511.2,276.9 511.78,276.74 512.35,276.57 512.93,276.38 513.51,276.17 514.08,275.95 514.66,275.71 515.23,275.46 515.81,275.19 516.39,274.91 516.96,274.62 517.54,274.31 518.11,273.99 518.69,273.65 519.27,273.31 519.84,272.95 520.42,272.58 520.99,272.2 521.57,271.81 522.15,271.4 522.72,270.99 523.3,270.58 523.87,270.15 524.45,269.71 525.03,269.27 525.6,268.82 526.18,268.37 526.75,267.91 527.33,267.45 527.91,266.98 528.48,266.5 529.06,266.03 529.63,265.55 530.21,265.07 530.79,264.59 531.36,264.11 531.94,263.63 532.51,263.15 533.09,262.67 533.67,262.19 534.24,261.71 534.82,261.24 535.39,260.77 535.97,260.3 536.55,259.84 537.12,259.39 537.7,258.94 538.27,258.49 538.85,258.06 539.43,257.63 540,257.21 540.58,256.79 541.15,256.39 541.73,255.99 542.31,255.6 542.88,255.23 543.46,254.86 544.03,254.51 544.61,254.17 545.19,253.84 545.76,253.52 546.34,253.21 546.91,252.92 547.49,252.64 548.07,252.37 548.64,252.12 549.22,251.88 549.79,251.65 550.37,251.44 550.95,251.25 551.52,251.07 552.1,250.9 552.67,250.75 553.25,250.62 553.83,250.5 554.4,250.39 554.98,250.31 555.55,250.23 556.13,250.18 556.71,250.14 557.28,250.11 557.86,250.11 558.43,250.11 559.01,250.14 559.59,250.18 560.16,250.23 560.74,250.3 561.31,250.39 561.89,250.49 562.47,250.6 563.04,250.74 563.62,250.88 564.19,251.04 564.77,251.22 565.35,251.4 565.92,251.61 566.5,251.82 567.07,252.05 567.65,252.29 568.23,252.54 568.8,252.81 569.38,253.09 569.95,253.38 570.53,253.68 571.11,253.99 571.68,254.31 572.26,254.64 572.83,254.98 573.41,255.33 573.99,255.68 574.56,256.05 575.14,256.42 575.71,256.8 576.29,257.18 576.87,257.58 577.44,257.97 578.02,258.38 578.59,258.78 579.17,259.19 579.75,259.61 580.32,260.03 580.9,260.45 581.47,260.87 582.05,261.29 582.63,261.72 583.2,262.14 583.78,262.56 584.36,262.99 584.93,263.41 585.51,263.83 586.08,264.25 586.66,264.67 587.24,265.08 587.81,265.49 588.39,265.89 588.96,266.29 589.54,266.68 590.12,267.07 590.69,267.46 591.27,267.83 591.84,268.2 592.42,268.56 593,268.92 593.57,269.26 594.15,269.6 594.72,269.92 595.3,270.24 595.88,270.55 596.45,270.85 597.03,271.13 597.6,271.41 598.18,271.67 598.76,271.93 599.33,272.17 599.91,272.4 600.48,272.62 601.06,272.82 601.64,273.01 602.21,273.19 602.79,273.36 603.36,273.51 603.94,273.65 604.52,273.77 605.09,273.89 605.67,273.98 606.24,274.07 606.82,274.14 607.4,274.19 607.97,274.24 608.55,274.26 609.12,274.28 609.7,274.28 610.28,274.26 610.85,274.24 611.43,274.19 612,274.14 612.58,274.07 613.16,273.98 613.73,273.89 614.31,273.78 614.88,273.65 615.46,273.52 616.04,273.37 616.61,273.21 617.19,273.03 617.76,272.85 618.34,272.65 618.92,272.44 619.49,272.22 620.07,271.99 620.64,271.75 621.22,271.5 621.8,271.24 622.37,270.96 622.95,270.68 623.52,270.39 624.1,270.09 624.68,269.79 625.25,269.47 625.83,269.15 626.4,268.82 626.98,268.49 627.56,268.15 628.13,267.8 628.71,267.45 629.28,267.1 629.86,266.74 630.44,266.37 631.01,266 631.59,265.63 632.16,265.26 632.74,264.88 633.32,264.51 633.89,264.13 634.47,263.75 635.04,263.37 635.62,263 636.2,262.62 636.77,262.24 637.35,261.87 637.92,261.5 638.5,261.13 639.08,260.76 639.65,260.4 640.23,260.04 640.8,259.69 641.38,259.34 641.96,259 642.53,258.66 643.11,258.33 643.68,258 644.26,257.68 644.84,257.37 645.41,257.07 645.99,256.77 646.56,256.49 647.14,256.21 647.72,255.94 648.29,255.68 648.87,255.42 649.44,255.18 650.02,254.95 650.6,254.73 651.17,254.52 651.75,254.32 652.32,254.13 652.9,253.96 653.48,253.79 654.05,253.64 654.63,253.5 655.2,253.37 655.78,253.25 656.36,253.14 656.93,253.05 657.51,252.97 658.08,252.9 658.66,252.85 659.24,252.8 659.81,252.77 660.39,252.76 660.96,252.75 661.54,252.76 662.12,252.78 662.69,252.81 663.27,252.85" fill="none" stroke="#ff8000" stroke-width="2.8"/>
<g fill="#000"><circle cx="149.4" cy="129.1" r="3.0"/><circle cx="158.8" cy="191.2" r="3.0"/><circle cx="170.0" cy="234.8" r="3.0"/><circle cx="179.4" cy="312.8" r="3.0"/><circle cx="191.1" cy="325.7" r="3.0"/><circle cx="200.5" cy="324.1" r="3.0"/><circle cx="211.5" cy="290.0" r="3.0"/><circle cx="221.3" cy="273.0" r="3.0"/><circle cx="233.0" cy="236.8" r="3.0"/><circle cx="242.2" cy="229.0" r="3.0"/><circle cx="253.6" cy="229.0" r="3.0"/><circle cx="262.8" cy="244.6" r="3.0"/><circle cx="274.5" cy="261.3" r="3.0"/><circle cx="283.9" cy="272.6" r="3.0"/><circle cx="295.3" cy="282.4" r="3.0"/><circle cx="306.8" cy="289.5" r="3.0"/><circle cx="316.4" cy="274.6" r="3.0"/><circle cx="327.8" cy="263.4" r="3.0"/><circle cx="337.0" cy="253.7" r="3.0"/><circle cx="348.5" cy="238.4" r="3.0"/><circle cx="358.1" cy="240.5" r="3.0"/><circle cx="369.5" cy="249.9" r="3.0"/><circle cx="378.9" cy="271.1" r="3.0"/><circle cx="390.4" cy="268.9" r="3.0"/><circle cx="399.8" cy="272.3" r="3.0"/><circle cx="410.4" cy="287.9" r="3.0"/><circle cx="420.4" cy="269.1" r="3.0"/><circle cx="432.1" cy="265.0" r="3.0"/><circle cx="441.5" cy="249.9" r="3.0"/><circle cx="452.7" cy="251.9" r="3.0"/><circle cx="462.3" cy="251.9" r="3.0"/><circle cx="474.0" cy="261.3" r="3.0"/><circle cx="484.8" cy="265.0" r="3.0"/><circle cx="494.4" cy="272.6" r="3.0"/><circle cx="505.9" cy="276.4" r="3.0"/><circle cx="515.5" cy="272.6" r="3.0"/><circle cx="526.7" cy="259.7" r="3.0"/><circle cx="536.4" cy="261.3" r="3.0"/><circle cx="547.7" cy="251.7" r="3.0"/><circle cx="557.1" cy="257.8" r="3.0"/><circle cx="568.7" cy="274.6" r="3.0"/><circle cx="577.9" cy="243.9" r="3.0"/><circle cx="589.2" cy="268.9" r="3.0"/><circle cx="599.0" cy="261.3" r="3.0"/><circle cx="610.2" cy="278.3" r="3.0"/><circle cx="619.8" cy="274.6" r="3.0"/><circle cx="631.1" cy="270.9" r="3.0"/><circle cx="640.7" cy="251.7" r="3.0"/><circle cx="651.9" cy="249.7" r="3.0"/><circle cx="663.1" cy="261.3" r="3.0"/></g>
<rect x="107.8" y="1.0" width="566" height="349.4" fill="none" stroke="#000" stroke-width="2.1"/>
<path d="M118.8,350.4v-6.5M118.8,1v6.5M221.24,350.4v-6.5M221.24,1v6.5M323.68,350.4v-6.5M323.68,1v6.5M426.12,350.4v-6.5M426.12,1v6.5M528.56,350.4v-6.5M528.56,1v6.5M631,350.4v-6.5M631,1v6.5M107.8,313.8h6.5M673.8,313.8h-6.5M107.8,265.8h6.5M673.8,265.8h-6.5M107.8,217.8h6.5M673.8,217.8h-6.5M107.8,169.8h6.5M673.8,169.8h-6.5M107.8,121.8h6.5M673.8,121.8h-6.5M107.8,73.8h6.5M673.8,73.8h-6.5M107.8,25.8h6.5M673.8,25.8h-6.5" stroke="#000" stroke-width="1.9" fill="none"/>
<path d="M144.41,350.4v-4M144.41,1v4M170.02,350.4v-4M170.02,1v4M195.63,350.4v-4M195.63,1v4M246.85,350.4v-4M246.85,1v4M272.46,350.4v-4M272.46,1v4M298.07,350.4v-4M298.07,1v4M349.29,350.4v-4M349.29,1v4M374.9,350.4v-4M374.9,1v4M400.51,350.4v-4M400.51,1v4M451.73,350.4v-4M451.73,1v4M477.34,350.4v-4M477.34,1v4M502.95,350.4v-4M502.95,1v4M554.17,350.4v-4M554.17,1v4M579.78,350.4v-4M579.78,1v4M605.39,350.4v-4M605.39,1v4M656.61,350.4v-4M656.61,1v4M107.8,337.8h4M673.8,337.8h-4M107.8,325.8h4M673.8,325.8h-4M107.8,301.8h4M673.8,301.8h-4M107.8,289.8h4M673.8,289.8h-4M107.8,277.8h4M673.8,277.8h-4M107.8,253.8h4M673.8,253.8h-4M107.8,241.8h4M673.8,241.8h-4M107.8,229.8h4M673.8,229.8h-4M107.8,205.8h4M673.8,205.8h-4M107.8,193.8h4M673.8,193.8h-4M107.8,181.8h4M673.8,181.8h-4M107.8,157.8h4M673.8,157.8h-4M107.8,145.8h4M673.8,145.8h-4M107.8,133.8h4M673.8,133.8h-4M107.8,109.8h4M673.8,109.8h-4M107.8,97.8h4M673.8,97.8h-4M107.8,85.8h4M673.8,85.8h-4M107.8,61.8h4M673.8,61.8h-4M107.8,49.8h4M673.8,49.8h-4M107.8,37.8h4M673.8,37.8h-4M107.8,13.8h4M673.8,13.8h-4M107.8,1.8h4M673.8,1.8h-4" stroke="#000" stroke-width="1.7" fill="none"/>
<rect x="174.4" y="33.2" width="178.1" height="110" rx="35" ry="35" fill="none" stroke="#ff8000" stroke-width="1.9"/>
<rect x="383.8" y="31.3" width="218.9" height="112.8" rx="36" ry="36" fill="none" stroke="#0000a0" stroke-width="1.9"/>
<text stroke="#ff8000" stroke-width="0.4" transform="translate(185.91,79.83) scale(0.800,1)" font-family="Liberation Serif" font-size="26.87" fill="#ff8000">C</text>
<text stroke="#ff8000" stroke-width="0.12" transform="translate(201.77,78.92) scale(1.120,1)" font-family="Liberation Serif" font-size="26.56" fill="#ff8000">(</text>
<text stroke="#ff8000" stroke-width="0.4" transform="translate(211.56,79.82) scale(1.120,1)" font-family="Liberation Serif" font-size="27.54" font-style="italic" fill="#ff8000">t</text>
<text stroke="#ff8000" stroke-width="0.12" transform="translate(221.34,78.92) scale(1.120,1)" font-family="Liberation Serif" font-size="26.56" fill="#ff8000">)</text>
<text stroke="#ff8000" stroke-width="0.12" x="232.55" y="82.11" font-family="Liberation Sans" font-size="30.1" fill="#ff8000">~</text>
<text stroke="#ff8000" stroke-width="0.4" transform="translate(255.77,79.74) scale(0.800,1)" font-family="Liberation Serif" font-size="26.42" font-style="italic" fill="#ff8000">G</text>
<text stroke="#ff8000" stroke-width="0.12" transform="translate(273.83,79.49) scale(1.120,1)" font-family="Liberation Serif" font-size="26.22" fill="#ff8000">(</text>
<text stroke="#ff8000" stroke-width="0.4" transform="translate(284.11,79.53) scale(1.120,1)" font-family="Liberation Serif" font-size="27.02" font-style="italic" fill="#ff8000">t</text>
<text stroke="#ff8000" stroke-width="0.4" transform="translate(296.43,83.65) scale(0.845,1)" font-family="Liberation Serif" font-size="35.04" font-style="italic" fill="#ff8000">/</text>
<text stroke="#ff8000" stroke-width="0.4" transform="translate(307.45,79.8) scale(0.956,1)" font-family="Liberation Serif" font-size="26.62" font-style="italic" fill="#ff8000">T</text>
<text stroke="#ff8000" stroke-width="0.4" x="321.86" y="84.5" font-family="Liberation Serif" font-size="15.73" font-style="italic" fill="#ff8000">D</text>
<text stroke="#ff8000" stroke-width="0.12" transform="translate(334.84,79.54) scale(1.120,1)" font-family="Liberation Serif" font-size="26" fill="#ff8000">)</text>
<text stroke="#ff8000" stroke-width="0.4" transform="translate(208.52,117.3) scale(0.929,1)" font-family="Liberation Serif" font-size="24.77" font-style="italic" fill="#ff8000">R</text>
<text stroke="#ff8000" stroke-width="0.12" transform="translate(223.68,107) scale(1.120,1)" font-family="Liberation Sans" font-size="14.86" fill="#ff8000">2</text>
<text stroke="#ff8000" stroke-width="0.12" transform="translate(238.49,116.95) scale(0.966,1)" font-family="Liberation Sans" font-size="20.91" fill="#ff8000">≈</text>
<text stroke="#ff8000" stroke-width="0.12" transform="translate(256.46,117.07) scale(1.036,1)" font-family="Liberation Sans" font-size="22.68" fill="#ff8000">0.93</text>
<text stroke="#0000a0" stroke-width="0.4" transform="translate(393.62,80.13) scale(0.821,1)" font-family="Liberation Serif" font-size="26.72" fill="#0000a0">C</text>
<text stroke="#0000a0" stroke-width="0.12" transform="translate(409.27,79.32) scale(1.120,1)" font-family="Liberation Serif" font-size="26.56" fill="#0000a0">(</text>
<text stroke="#0000a0" stroke-width="0.4" transform="translate(419.24,80.03) scale(1.120,1)" font-family="Liberation Serif" font-size="27.37" font-style="italic" fill="#0000a0">t</text>
<text stroke="#0000a0" stroke-width="0.12" transform="translate(429.34,79.32) scale(1.120,1)" font-family="Liberation Serif" font-size="26.56" fill="#0000a0">)</text>
<text stroke="#0000a0" stroke-width="0.12" x="444.31" y="83.13" font-family="Liberation Sans" font-size="30.91" fill="#0000a0">~</text>
<text stroke="#0000a0" stroke-width="0.15" transform="translate(461.99,79.92) scale(1.023,1)" font-family="Liberation Serif" font-size="27.06" fill="#0000a0">exp</text>
<path d="M516.2,47.6C509.5,54 506.4,63 506.4,72.8C506.4,82.6 509.5,91.6 516.2,98L517.6,96.6C512,90.6 509.3,82 509.3,72.8C509.3,63.6 512,55 517.6,49Z" fill="#0000a0"/>
<path d="M568.8,47.6C575.5,54 578.6,63 578.6,72.8C578.6,82.6 575.5,91.6 568.8,98L567.4,96.6C573,90.6 575.7,82 575.7,72.8C575.7,63.6 573,55 567.4,49Z" fill="#0000a0"/>
<path d="M520.1,72.65H535.5" stroke="#0000a0" stroke-width="1.7"/>
<path d="M540.9,72.8H568.2" stroke="#0000a0" stroke-width="1.8"/>
<text stroke="#0000a0" stroke-width="0.4" transform="translate(549.76,60.53) scale(1.120,1)" font-family="Liberation Serif" font-size="27.02" font-style="italic" fill="#0000a0">t</text>
<text stroke="#0000a0" stroke-width="0.4" transform="translate(540.56,96.9) scale(1.034,1)" font-family="Liberation Serif" font-size="25.85" font-style="italic" fill="#0000a0">T</text>
<text stroke="#0000a0" stroke-width="0.4" transform="translate(555.05,102.2) scale(0.916,1)" font-family="Liberation Serif" font-size="16.03" font-style="italic" fill="#0000a0">D</text>
<text stroke="#0000a0" stroke-width="0.4" transform="translate(438.52,120.1) scale(0.904,1)" font-family="Liberation Serif" font-size="26.92" font-style="italic" fill="#0000a0">R</text>
<text stroke="#0000a0" stroke-width="0.12" transform="translate(453.74,110.2) scale(1.120,1)" font-family="Liberation Sans" font-size="15.14" fill="#0000a0">2</text>
<text stroke="#0000a0" stroke-width="0.12" transform="translate(468.54,119.65) scale(1.120,1)" font-family="Liberation Sans" font-size="19.7" fill="#0000a0">≈</text>
<text stroke="#0000a0" stroke-width="0.12" transform="translate(485.65,119.87) scale(1.052,1)" font-family="Liberation Sans" font-size="22.68" fill="#0000a0">0.90</text>
<rect x="108.0" y="451.9" width="564.5" height="348.4" fill="none" stroke="#000" stroke-width="2.1"/>
<path d="M108,800.3v-6.5M108,451.9v6.5M202.08,800.3v-6.5M202.08,451.9v6.5M296.16,800.3v-6.5M296.16,451.9v6.5M390.24,800.3v-6.5M390.24,451.9v6.5M484.32,800.3v-6.5M484.32,451.9v6.5M578.4,800.3v-6.5M578.4,451.9v6.5M672.48,800.3v-6.5M672.48,451.9v6.5M108,800.3h6.5M672.5,800.3h-6.5M108,691.42h6.5M672.5,691.42h-6.5M108,582.55h6.5M672.5,582.55h-6.5M108,473.67h6.5M672.5,473.67h-6.5" stroke="#000" stroke-width="1.9" fill="none"/>
<path d="M126.82,800.3v-4M126.82,451.9v4M145.63,800.3v-4M145.63,451.9v4M164.45,800.3v-4M164.45,451.9v4M183.26,800.3v-4M183.26,451.9v4M220.9,800.3v-4M220.9,451.9v4M239.71,800.3v-4M239.71,451.9v4M258.53,800.3v-4M258.53,451.9v4M277.34,800.3v-4M277.34,451.9v4M314.98,800.3v-4M314.98,451.9v4M333.79,800.3v-4M333.79,451.9v4M352.61,800.3v-4M352.61,451.9v4M371.42,800.3v-4M371.42,451.9v4M409.06,800.3v-4M409.06,451.9v4M427.87,800.3v-4M427.87,451.9v4M446.69,800.3v-4M446.69,451.9v4M465.5,800.3v-4M465.5,451.9v4M503.14,800.3v-4M503.14,451.9v4M521.95,800.3v-4M521.95,451.9v4M540.77,800.3v-4M540.77,451.9v4M559.58,800.3v-4M559.58,451.9v4M597.22,800.3v-4M597.22,451.9v4M616.03,800.3v-4M616.03,451.9v4M634.85,800.3v-4M634.85,451.9v4M653.66,800.3v-4M653.66,451.9v4M108,778.52h4M672.5,778.52h-4M108,756.75h4M672.5,756.75h-4M108,734.97h4M672.5,734.97h-4M108,713.2h4M672.5,713.2h-4M108,669.65h4M672.5,669.65h-4M108,647.88h4M672.5,647.88h-4M108,626.1h4M672.5,626.1h-4M108,604.32h4M672.5,604.32h-4M108,560.77h4M672.5,560.77h-4M108,539h4M672.5,539h-4M108,517.22h4M672.5,517.22h-4M108,495.45h4M672.5,495.45h-4M108,451.9h4M672.5,451.9h-4" stroke="#000" stroke-width="1.7" fill="none"/>
<defs><clipPath id="cb"><rect x="108" y="451.9" width="564.5" height="348.4"/></clipPath></defs>
<g clip-path="url(#cb)">
<path d="M106,758.34 107.42,758.04 108.84,757.75 110.26,757.45 111.68,757.16 113.11,756.86 114.53,756.56 115.95,756.26 117.37,755.96 118.79,755.66 120.21,755.35 121.63,755.05 123.05,754.74 124.47,754.43 125.89,754.11 127.32,753.8 128.74,753.48 130.16,753.16 131.58,752.84 133,752.51 134.42,752.18 135.84,751.84 137.26,751.51 138.68,751.17 140.11,750.82 141.53,750.47 142.95,750.12 144.37,749.76 145.79,749.41 147.21,749.04 148.63,748.68 150.05,748.31 151.47,747.94 152.89,747.56 154.32,747.18 155.74,746.8 157.16,746.41 158.58,746.02 160,745.63 161.42,745.24 162.84,744.84 164.26,744.44 165.68,744.03 167.11,743.62 168.53,743.2 169.95,742.78 171.37,742.36 172.79,741.93 174.21,741.5 175.63,741.06 177.05,740.63 178.47,740.18 179.89,739.74 181.32,739.29 182.74,738.84 184.16,738.39 185.58,737.93 187,737.47 188.42,737.02 189.84,736.55 191.26,736.09 192.68,735.63 194.11,735.16 195.53,734.69 196.95,734.21 198.37,733.73 199.79,733.25 201.21,732.76 202.63,732.27 204.05,731.77 205.47,731.26 206.89,730.75 208.32,730.23 209.74,729.7 211.16,729.17 212.58,728.64 214,728.09 215.42,727.54 216.84,726.99 218.26,726.42 219.68,725.85 221.11,725.27 222.53,724.69 223.95,724.09 225.37,723.5 226.79,722.89 228.21,722.28 229.63,721.66 231.05,721.04 232.47,720.41 233.89,719.77 235.32,719.13 236.74,718.49 238.16,717.83 239.58,717.18 241,716.52 242.42,715.85 243.84,715.18 245.26,714.5 246.68,713.83 248.11,713.14 249.53,712.45 250.95,711.76 252.37,711.07 253.79,710.37 255.21,709.67 256.63,708.96 258.05,708.26 259.47,707.55 260.89,706.84 262.32,706.12 263.74,705.4 265.16,704.68 266.58,703.96 268,703.24 269.42,702.51 270.84,701.78 272.26,701.05 273.68,700.32 275.11,699.58 276.53,698.84 277.95,698.1 279.37,697.36 280.79,696.61 282.21,695.86 283.63,695.11 285.05,694.35 286.47,693.59 287.89,692.83 289.32,692.06 290.74,691.3 292.16,690.52 293.58,689.75 295,688.97 296.42,688.2 297.84,687.41 299.26,686.63 300.68,685.84 302.11,685.06 303.53,684.27 304.95,683.48 306.37,682.69 307.79,681.9 309.21,681.11 310.63,680.32 312.05,679.53 313.47,678.74 314.89,677.95 316.32,677.16 317.74,676.37 319.16,675.58 320.58,674.79 322,674 323.42,673.21 324.84,672.43 326.26,671.65 327.68,670.87 329.11,670.1 330.53,669.33 331.95,668.57 333.37,667.81 334.79,667.06 336.21,666.31 337.63,665.57 339.05,664.84 340.47,664.12 341.89,663.4 343.32,662.7 344.74,662.01 346.16,661.34 347.58,660.67 349,660.02 350.42,659.39 351.84,658.78 353.26,658.18 354.68,657.6 356.11,657.04 357.53,656.51 358.95,655.99 360.37,655.5 361.79,655.03 363.21,654.58 364.63,654.16 366.05,653.75 367.47,653.37 368.89,653.01 370.32,652.67 371.74,652.35 373.16,652.05 374.58,651.76 376,651.5 377.42,651.25 378.84,651.03 380.26,650.82 381.68,650.64 383.11,650.47 384.53,650.33 385.95,650.21 387.37,650.11 388.79,650.04 390.21,649.98 391.63,649.95 393.05,649.95 394.47,649.96 395.89,650 397.32,650.06 398.74,650.14 400.16,650.25 401.58,650.37 403,650.52 404.42,650.69 405.84,650.88 407.26,651.09 408.68,651.31 410.11,651.56 411.53,651.83 412.95,652.11 414.37,652.41 415.79,652.73 417.21,653.07 418.63,653.42 420.05,653.79 421.47,654.17 422.89,654.56 424.32,654.97 425.74,655.39 427.16,655.82 428.58,656.27 430,656.72 431.42,657.19 432.84,657.66 434.26,658.15 435.68,658.64 437.11,659.15 438.53,659.66 439.95,660.17 441.37,660.7 442.79,661.23 444.21,661.76 445.63,662.3 447.05,662.85 448.47,663.4 449.89,663.95 451.32,664.51 452.74,665.07 454.16,665.63 455.58,666.19 457,666.76 458.42,667.32 459.84,667.89 461.26,668.46 462.68,669.04 464.11,669.61 465.53,670.19 466.95,670.76 468.37,671.34 469.79,671.92 471.21,672.5 472.63,673.07 474.05,673.65 475.47,674.23 476.89,674.81 478.32,675.39 479.74,675.97 481.16,676.54 482.58,677.12 484,677.7 485.42,678.27 486.84,678.85 488.26,679.42 489.68,679.99 491.11,680.56 492.53,681.13 493.95,681.7 495.37,682.27 496.79,682.84 498.21,683.4 499.63,683.96 501.05,684.52 502.47,685.08 503.89,685.64 505.32,686.2 506.74,686.75 508.16,687.3 509.58,687.85 511,688.4 512.42,688.95 513.84,689.49 515.26,690.03 516.68,690.57 518.11,691.11 519.53,691.64 520.95,692.17 522.37,692.7 523.79,693.22 525.21,693.74 526.63,694.25 528.05,694.77 529.47,695.27 530.89,695.78 532.32,696.28 533.74,696.78 535.16,697.27 536.58,697.76 538,698.24 539.42,698.72 540.84,699.19 542.26,699.66 543.68,700.12 545.11,700.58 546.53,701.03 547.95,701.48 549.37,701.93 550.79,702.37 552.21,702.81 553.63,703.25 555.05,703.68 556.47,704.11 557.89,704.54 559.32,704.97 560.74,705.39 562.16,705.81 563.58,706.23 565,706.64 566.42,707.06 567.84,707.47 569.26,707.89 570.68,708.3 572.11,708.71 573.53,709.12 574.95,709.52 576.37,709.93 577.79,710.34 579.21,710.74 580.63,711.14 582.05,711.54 583.47,711.94 584.89,712.33 586.32,712.72 587.74,713.11 589.16,713.5 590.58,713.88 592,714.26 593.42,714.63 594.84,715.01 596.26,715.38 597.68,715.74 599.11,716.1 600.53,716.46 601.95,716.81 603.37,717.16 604.79,717.5 606.21,717.84 607.63,718.18 609.05,718.51 610.47,718.84 611.89,719.16 613.32,719.49 614.74,719.8 616.16,720.12 617.58,720.43 619,720.74 620.42,721.04 621.84,721.35 623.26,721.65 624.68,721.94 626.11,722.24 627.53,722.53 628.95,722.82 630.37,723.11 631.79,723.4 633.21,723.69 634.63,723.97 636.05,724.26 637.47,724.54 638.89,724.82 640.32,725.1 641.74,725.38 643.16,725.66 644.58,725.93 646,726.21 647.42,726.48 648.84,726.75 650.26,727.02 651.68,727.29 653.11,727.55 654.53,727.81 655.95,728.07 657.37,728.33 658.79,728.59 660.21,728.84 661.63,729.09 663.05,729.34 664.47,729.59 665.89,729.83 667.32,730.08 668.74,730.32 670.16,730.56 671.58,730.81 673,731.05" fill="none" stroke="#0000ff" stroke-width="2.7"/>
<path d="M106,768.52 106.92,768.45 107.83,768.38 108.75,768.31 109.67,768.24 110.58,768.16 111.5,768.08 112.41,768 113.33,767.92 114.25,767.84 115.16,767.75 116.08,767.66 117,767.58 117.91,767.49 118.83,767.4 119.75,767.3 120.66,767.21 121.58,767.12 122.49,767.02 123.41,766.92 124.33,766.82 125.24,766.72 126.16,766.62 127.08,766.52 127.99,766.42 128.91,766.31 129.83,766.2 130.74,766.09 131.66,765.97 132.58,765.85 133.49,765.73 134.41,765.61 135.32,765.48 136.24,765.36 137.16,765.23 138.07,765.1 138.99,764.97 139.91,764.84 140.82,764.71 141.74,764.57 142.66,764.44 143.57,764.3 144.49,764.17 145.4,764.04 146.32,763.9 147.24,763.77 148.15,763.63 149.07,763.5 149.99,763.36 150.9,763.23 151.82,763.09 152.74,762.95 153.65,762.82 154.57,762.68 155.48,762.54 156.4,762.4 157.32,762.26 158.23,762.11 159.15,761.97 160.07,761.83 160.98,761.68 161.9,761.54 162.82,761.39 163.73,761.24 164.65,761.1 165.57,760.95 166.48,760.8 167.4,760.65 168.31,760.49 169.23,760.34 170.15,760.19 171.06,760.03 171.98,759.88 172.9,759.72 173.81,759.57 174.73,759.41 175.65,759.25 176.56,759.09 177.48,758.93 178.39,758.76 179.31,758.6 180.23,758.44 181.14,758.27 182.06,758.11 182.98,757.94 183.89,757.77 184.81,757.6 185.73,757.43 186.64,757.26 187.56,757.09 188.47,756.91 189.39,756.74 190.31,756.56 191.22,756.39 192.14,756.21 193.06,756.03 193.97,755.85 194.89,755.67 195.81,755.49 196.72,755.31 197.64,755.12 198.56,754.94 199.47,754.76 200.39,754.57 201.3,754.38 202.22,754.19 203.14,754 204.05,753.81 204.97,753.62 205.89,753.42 206.8,753.22 207.72,753.03 208.64,752.83 209.55,752.62 210.47,752.42 211.38,752.21 212.3,752 213.22,751.79 214.13,751.58 215.05,751.36 215.97,751.15 216.88,750.93 217.8,750.71 218.72,750.49 219.63,750.26 220.55,750.04 221.46,749.81 222.38,749.58 223.3,749.35 224.21,749.11 225.13,748.88 226.05,748.64 226.96,748.39 227.88,748.15 228.8,747.9 229.71,747.65 230.63,747.39 231.55,747.13 232.46,746.87 233.38,746.6 234.29,746.33 235.21,746.06 236.13,745.77 237.04,745.49 237.96,745.2 238.88,744.9 239.79,744.6 240.71,744.29 241.63,743.97 242.54,743.66 243.46,743.34 244.37,743.01 245.29,742.68 246.21,742.35 247.12,742.02 248.04,741.68 248.96,741.34 249.87,741 250.79,740.65 251.71,740.31 252.62,739.96 253.54,739.61 254.45,739.26 255.37,738.91 256.29,738.56 257.2,738.22 258.12,737.87 259.04,737.52 259.95,737.17 260.87,736.82 261.79,736.47 262.7,736.12 263.62,735.77 264.54,735.42 265.45,735.06 266.37,734.7 267.28,734.34 268.2,733.97 269.12,733.6 270.03,733.22 270.95,732.84 271.87,732.46 272.78,732.06 273.7,731.67 274.62,731.26 275.53,730.85 276.45,730.43 277.36,730 278.28,729.56 279.2,729.12 280.11,728.66 281.03,728.2 281.95,727.72 282.86,727.24 283.78,726.75 284.7,726.25 285.61,725.75 286.53,725.23 287.44,724.71 288.36,724.18 289.28,723.64 290.19,723.1 291.11,722.55 292.03,721.99 292.94,721.43 293.86,720.86 294.78,720.28 295.69,719.7 296.61,719.11 297.53,718.52 298.44,717.92 299.36,717.32 300.27,716.71 301.19,716.1 302.11,715.48 303.02,714.86 303.94,714.24 304.86,713.62 305.77,712.98 306.69,712.35 307.61,711.7 308.52,711.05 309.44,710.4 310.35,709.74 311.27,709.07 312.19,708.39 313.1,707.7 314.02,707.01 314.94,706.3 315.85,705.59 316.77,704.87 317.69,704.14 318.6,703.39 319.52,702.64 320.43,701.88 321.35,701.1 322.27,700.31 323.18,699.51 324.1,698.7 325.02,697.87 325.93,697.03 326.85,696.18 327.77,695.31 328.68,694.42 329.6,693.5 330.52,692.52 331.43,691.51 332.35,690.46 333.26,689.37 334.18,688.26 335.1,687.13 336.01,685.98 336.93,684.82 337.85,683.64 338.76,682.43 339.68,681.18 340.6,679.91 341.51,678.62 342.43,677.31 343.34,675.98 344.26,674.65 345.18,673.32 346.09,671.98 347.01,670.67 347.93,669.35 348.84,668.02 349.76,666.65 350.68,665.24 351.59,663.77 352.51,662.21 353.42,660.53 354.34,658.74 355.26,656.88 356.17,654.97 357.09,653.05 358.01,651.16 358.92,649.31 359.84,647.46 360.76,645.55 361.67,643.54 362.59,641.38 363.51,638.97 364.42,636.32 365.34,633.54 366.25,630.74 367.17,628.02 368.09,625.34 369,622.65 369.92,619.89 370.84,617 371.75,613.92 372.67,610.62 373.59,607.06 374.5,603.19 375.42,598.94 376.33,594.27 377.25,589.21 378.17,583.67 379.08,577.48 380,570.61 380.2,568.97 380.44,566.89 380.68,564.63 380.91,562.15 381.15,559.24 381.39,555.88 381.63,552.23 381.87,548.42 382.1,544.1 382.34,539.59 382.58,535.51 382.82,532.08 383.06,528.9 383.29,525.94 383.53,523.11 383.77,520.39 384.01,517.71 384.24,515.16 384.48,512.72 384.72,510.35 384.96,508 385.2,505.63 385.43,503.19 385.67,500.67 385.91,498.12 386.15,495.54 386.39,492.94 386.62,490.32 386.86,487.67 387.1,485 391.2,484.1 391.4,487.06 391.6,489.98 391.8,492.85 392,495.67 392.2,498.44 392.4,501.16 392.6,503.82 392.8,506.41 393,508.94 393.2,511.44 393.4,513.92 393.6,516.4 393.8,518.9 394,521.44 394.2,524.01 394.4,526.58 394.6,529.13 394.8,531.65 395,534.1 395.2,536.5 395.4,538.94 395.6,541.38 395.8,543.76 396,546.02 396.2,548.09 396.4,549.9 396.6,551.51 396.8,553 397,554.39 397.2,555.7 398.12,561.1 399.04,566.59 399.97,572.73 400.89,578.77 401.81,584.52 402.73,589.98 403.66,595.21 404.58,598.94 405.5,601.77 406.42,604.66 407.35,607.72 408.27,610.8 409.19,613.8 410.11,616.64 411.04,619.35 411.96,621.96 412.88,624.5 413.8,626.95 414.73,629.32 415.65,631.65 416.57,633.94 417.49,636.15 418.42,638.24 419.34,640.18 420.26,641.96 421.18,643.64 422.11,645.23 423.03,646.76 423.95,648.23 424.87,649.67 425.79,651.09 426.72,652.51 427.64,653.95 428.56,655.41 429.48,656.94 430.41,658.5 431.33,659.9 432.25,661.09 433.17,662.17 434.1,663.16 435.02,664.12 435.94,665.08 436.86,666.07 437.79,667.14 438.71,668.28 439.63,669.42 440.55,670.51 441.48,671.59 442.4,672.66 443.32,673.7 444.24,674.72 445.17,675.71 446.09,676.65 447.01,677.56 447.93,678.48 448.85,679.38 449.78,680.27 450.7,681.16 451.62,682.04 452.54,682.9 453.47,683.76 454.39,684.6 455.31,685.44 456.23,686.26 457.16,687.06 458.08,687.85 459,688.63 459.92,689.39 460.85,690.14 461.77,690.86 462.69,691.57 463.61,692.27 464.54,692.94 465.46,693.59 466.38,694.23 467.3,694.84 468.23,695.44 469.15,696.03 470.07,696.6 470.99,697.15 471.92,697.7 472.84,698.23 473.76,698.76 474.68,699.27 475.6,699.77 476.53,700.27 477.45,700.76 478.37,701.24 479.29,701.71 480.22,702.18 481.14,702.65 482.06,703.11 482.98,703.57 483.91,704.02 484.83,704.47 485.75,704.92 486.67,705.38 487.6,705.83 488.52,706.27 489.44,706.72 490.36,707.16 491.29,707.59 492.21,708.02 493.13,708.45 494.05,708.87 494.98,709.29 495.9,709.7 496.82,710.11 497.74,710.52 498.66,710.92 499.59,711.32 500.51,711.72 501.43,712.12 502.35,712.51 503.28,712.9 504.2,713.29 505.12,713.67 506.04,714.06 506.97,714.44 507.89,714.82 508.81,715.2 509.73,715.57 510.66,715.94 511.58,716.31 512.5,716.68 513.42,717.04 514.35,717.41 515.27,717.76 516.19,718.12 517.11,718.48 518.04,718.83 518.96,719.18 519.88,719.53 520.8,719.87 521.73,720.22 522.65,720.56 523.57,720.9 524.49,721.24 525.41,721.58 526.34,721.91 527.26,722.25 528.18,722.58 529.1,722.91 530.03,723.24 530.95,723.58 531.87,723.91 532.79,724.24 533.72,724.57 534.64,724.89 535.56,725.22 536.48,725.55 537.41,725.87 538.33,726.19 539.25,726.51 540.17,726.83 541.1,727.14 542.02,727.45 542.94,727.75 543.86,728.06 544.79,728.35 545.71,728.65 546.63,728.94 547.55,729.22 548.47,729.5 549.4,729.77 550.32,730.04 551.24,730.31 552.16,730.58 553.09,730.84 554.01,731.1 554.93,731.36 555.85,731.61 556.78,731.86 557.7,732.11 558.62,732.36 559.54,732.6 560.47,732.84 561.39,733.08 562.31,733.31 563.23,733.54 564.16,733.77 565.08,733.99 566,734.21 566.92,734.43 567.85,734.65 568.77,734.86 569.69,735.07 570.61,735.27 571.54,735.47 572.46,735.67 573.38,735.86 574.3,736.05 575.22,736.24 576.15,736.42 577.07,736.6 577.99,736.78 578.91,736.96 579.84,737.14 580.76,737.31 581.68,737.48 582.6,737.66 583.53,737.83 584.45,738 585.37,738.17 586.29,738.34 587.22,738.51 588.14,738.68 589.06,738.85 589.98,739.02 590.91,739.19 591.83,739.37 592.75,739.54 593.67,739.71 594.6,739.88 595.52,740.06 596.44,740.23 597.36,740.4 598.28,740.57 599.21,740.74 600.13,740.91 601.05,741.08 601.97,741.24 602.9,741.41 603.82,741.58 604.74,741.74 605.66,741.9 606.59,742.07 607.51,742.23 608.43,742.39 609.35,742.55 610.28,742.71 611.2,742.86 612.12,743.02 613.04,743.17 613.97,743.33 614.89,743.48 615.81,743.64 616.73,743.79 617.66,743.94 618.58,744.09 619.5,744.24 620.42,744.39 621.35,744.54 622.27,744.69 623.19,744.84 624.11,744.98 625.03,745.12 625.96,745.26 626.88,745.41 627.8,745.54 628.72,745.68 629.65,745.82 630.57,745.95 631.49,746.08 632.41,746.21 633.34,746.34 634.26,746.47 635.18,746.59 636.1,746.72 637.03,746.84 637.95,746.97 638.87,747.09 639.79,747.21 640.72,747.33 641.64,747.45 642.56,747.57 643.48,747.68 644.41,747.8 645.33,747.91 646.25,748.02 647.17,748.13 648.09,748.24 649.02,748.35 649.94,748.46 650.86,748.56 651.78,748.67 652.71,748.77 653.63,748.87 654.55,748.97 655.47,749.07 656.4,749.16 657.32,749.26 658.24,749.36 659.16,749.45 660.09,749.55 661.01,749.64 661.93,749.73 662.85,749.82 663.78,749.91 664.7,750 665.62,750.08 666.54,750.17 667.47,750.25 668.39,750.34 669.31,750.42 670.23,750.5 671.16,750.58 672.08,750.66 673,750.74" fill="none" stroke="#ff8000" stroke-width="2.8" stroke-linejoin="miter"/>
<g fill="#000"><circle cx="111.6" cy="760.7" r="1.25"/><circle cx="117.3" cy="760.5" r="1.25"/><circle cx="121.2" cy="758.5" r="1.25"/><circle cx="126.9" cy="758.5" r="1.25"/><circle cx="130.7" cy="758.5" r="1.25"/><circle cx="134.6" cy="758.5" r="1.25"/><circle cx="140" cy="756.7" r="1.25"/><circle cx="144" cy="756.7" r="1.25"/><circle cx="147.9" cy="754.9" r="1.25"/><circle cx="153.6" cy="752.8" r="1.25"/><circle cx="157.5" cy="752.8" r="1.25"/><circle cx="161.5" cy="751" r="1.25"/><circle cx="167" cy="749.2" r="1.25"/><circle cx="170.9" cy="747.2" r="1.25"/><circle cx="174.9" cy="745.2" r="1.25"/><circle cx="180.6" cy="745.2" r="1.25"/><circle cx="184.3" cy="743.3" r="1.25"/><circle cx="188.2" cy="743.3" r="1.25"/><circle cx="193.9" cy="743.3" r="1.25"/><circle cx="197.7" cy="743.3" r="1.25"/><circle cx="201.4" cy="743.3" r="1.25"/><circle cx="207.3" cy="743.3" r="1.25"/><circle cx="211" cy="745.2" r="1.25"/><circle cx="214.7" cy="745.2" r="1.25"/><circle cx="220" cy="745.2" r="1.25"/><circle cx="224.4" cy="745.2" r="1.25"/><circle cx="228.4" cy="745.2" r="1.25"/><circle cx="234" cy="743.2" r="1.25"/><circle cx="238" cy="741.2" r="1.25"/><circle cx="241.9" cy="739.3" r="1.25"/><circle cx="247.8" cy="735.7" r="1.25"/><circle cx="251.5" cy="733.8" r="1.25"/><circle cx="255.4" cy="729.9" r="1.25"/><circle cx="261" cy="728" r="1.25"/><circle cx="264.8" cy="724.2" r="1.25"/><circle cx="270.6" cy="722.3" r="1.25"/><circle cx="274.3" cy="718.5" r="1.25"/><circle cx="278.2" cy="716.5" r="1.25"/><circle cx="283.9" cy="716.5" r="1.25"/><circle cx="287.6" cy="714.6" r="1.25"/><circle cx="291.6" cy="712.8" r="1.25"/><circle cx="297.2" cy="712.8" r="1.25"/><circle cx="301" cy="710.8" r="1.25"/><circle cx="304.9" cy="710.8" r="1.25"/><circle cx="310.6" cy="708.9" r="1.25"/><circle cx="314.4" cy="705.2" r="1.25"/><circle cx="318.2" cy="701" r="1.25"/><circle cx="323.8" cy="697.5" r="1.25"/><circle cx="327.9" cy="691.7" r="1.25"/><circle cx="331.5" cy="685.8" r="1.25"/><circle cx="337.4" cy="678.3" r="1.25"/><circle cx="341.3" cy="670.6" r="1.25"/><circle cx="345" cy="661" r="1.25"/><circle cx="351" cy="653.6" r="1.25"/><circle cx="354.6" cy="643.9" r="1.25"/><circle cx="358.5" cy="636.2" r="1.25"/><circle cx="364.3" cy="628.5" r="1.25"/><circle cx="368.3" cy="620.9" r="1.25"/><circle cx="371.9" cy="615.2" r="1.25"/><circle cx="377.6" cy="609.7" r="1.25"/><circle cx="381.5" cy="605.8" r="1.25"/><circle cx="385.3" cy="601.8" r="1.25"/><circle cx="391" cy="601.8" r="1.25"/><circle cx="394.9" cy="601.8" r="1.25"/><circle cx="400.6" cy="601.8" r="1.25"/><circle cx="404.4" cy="605.8" r="1.25"/><circle cx="408.3" cy="609.7" r="1.25"/><circle cx="414" cy="613.4" r="1.25"/><circle cx="417.9" cy="621.1" r="1.25"/><circle cx="421.6" cy="626.8" r="1.25"/><circle cx="427.4" cy="636.2" r="1.25"/><circle cx="431.2" cy="643.9" r="1.25"/><circle cx="435.1" cy="653.6" r="1.25"/><circle cx="440.8" cy="661" r="1.25"/><circle cx="444.8" cy="670.6" r="1.25"/><circle cx="448.5" cy="678.3" r="1.25"/><circle cx="454.3" cy="685.8" r="1.25"/><circle cx="457.9" cy="691.7" r="1.25"/><circle cx="461.9" cy="695.4" r="1.25"/><circle cx="467.7" cy="699.1" r="1.25"/><circle cx="471.4" cy="701.4" r="1.25"/><circle cx="475.9" cy="703.1" r="1.25"/><circle cx="480.9" cy="703.3" r="1.25"/><circle cx="484.8" cy="703.3" r="1.25"/><circle cx="488.8" cy="703.3" r="1.25"/><circle cx="494.4" cy="703.3" r="1.25"/><circle cx="498.4" cy="703.3" r="1.25"/><circle cx="502.3" cy="703.3" r="1.25"/><circle cx="507.8" cy="705.2" r="1.25"/><circle cx="511.7" cy="705.2" r="1.25"/><circle cx="515.5" cy="707" r="1.25"/><circle cx="521.2" cy="709" r="1.25"/><circle cx="525.1" cy="712.7" r="1.25"/><circle cx="529" cy="714.7" r="1.25"/><circle cx="534.7" cy="718.4" r="1.25"/><circle cx="538.5" cy="720.3" r="1.25"/><circle cx="543.9" cy="722.4" r="1.25"/><circle cx="547.9" cy="722.4" r="1.25"/><circle cx="551.8" cy="722.4" r="1.25"/><circle cx="557.5" cy="722.4" r="1.25"/><circle cx="561.5" cy="720.5" r="1.25"/><circle cx="565.4" cy="718.5" r="1.25"/><circle cx="571.1" cy="716.5" r="1.25"/><circle cx="574.9" cy="714.7" r="1.25"/><circle cx="578.7" cy="712.8" r="1.25"/><circle cx="584.4" cy="710.8" r="1.25"/><circle cx="588.2" cy="708.8" r="1.25"/><circle cx="592.1" cy="708.8" r="1.25"/><circle cx="597.8" cy="708.8" r="1.25"/><circle cx="601.8" cy="710.9" r="1.25"/><circle cx="605.4" cy="712.9" r="1.25"/><circle cx="611.2" cy="714.7" r="1.25"/><circle cx="615.1" cy="718.7" r="1.25"/><circle cx="618.8" cy="722.3" r="1.25"/><circle cx="624.7" cy="726.1" r="1.25"/><circle cx="628.5" cy="731.8" r="1.25"/><circle cx="632.4" cy="735.6" r="1.25"/><circle cx="637.9" cy="739.6" r="1.25"/><circle cx="641.9" cy="743.2" r="1.25"/><circle cx="645.7" cy="745.3" r="1.25"/><circle cx="651.5" cy="747.3" r="1.25"/><circle cx="655.2" cy="745.3" r="1.25"/><circle cx="659.1" cy="743.3" r="1.25"/><circle cx="664.8" cy="739.6" r="1.25"/><circle cx="669.2" cy="735.6" r="1.25"/></g>
</g>
<path d="M407,510.3H455" stroke="#000" stroke-width="1.8" stroke-dasharray="3 3.3"/>
<path d="M407.2,538.4H456.2" stroke="#0000ff" stroke-width="2"/>
<path d="M407.2,564.7H456.2" stroke="#ff8000" stroke-width="2"/>
<g font-family="Liberation Serif" font-size="27" fill="#000" stroke="#000" stroke-width="0.12">
<text x="101" y="35.2" text-anchor="end">0.10</text>
<text x="101" y="83.2" text-anchor="end">0.08</text>
<text x="101" y="131.2" text-anchor="end">0.06</text>
<text x="101" y="179.2" text-anchor="end">0.04</text>
<text x="101" y="227.2" text-anchor="end">0.02</text>
<text x="101" y="275.2" text-anchor="end">0.00</text>
<text x="101" y="323.2" text-anchor="end">−<tspan dx="2.6">0.02</tspan></text>
<text x="118.8" y="381" text-anchor="middle">0</text>
<text x="221.24" y="381" text-anchor="middle">20</text>
<text x="323.68" y="381" text-anchor="middle">40</text>
<text x="426.12" y="381" text-anchor="middle">60</text>
<text x="528.56" y="381" text-anchor="middle">80</text>
<text x="631" y="381" text-anchor="middle">100</text>
<text x="391.4" y="423" text-anchor="middle" font-size="27.1">Time t (<tspan font-style="italic">μ</tspan>s)</text>
<text transform="translate(18.8,175.9) rotate(-90)" text-anchor="middle" font-size="27.05">Amplitude (a.u.)</text>
<text x="639.8" y="45.2" text-anchor="middle" font-size="26.5">(a)</text>
<text x="100.5" y="483.07" text-anchor="end">0.015</text>
<text x="100.5" y="591.95" text-anchor="end">0.010</text>
<text x="100.5" y="700.82" text-anchor="end">0.005</text>
<text x="100.5" y="809.7" text-anchor="end">0.000</text>
<text x="108" y="832" text-anchor="middle">20</text>
<text x="202.08" y="832" text-anchor="middle">30</text>
<text x="296.16" y="832" text-anchor="middle">40</text>
<text x="390.24" y="832" text-anchor="middle">50</text>
<text x="484.32" y="832" text-anchor="middle">60</text>
<text x="578.4" y="832" text-anchor="middle">70</text>
<text x="672.48" y="832" text-anchor="middle">80</text>
<text x="390.4" y="873" text-anchor="middle" font-size="26.95">Frequency (kHz)</text>
<text transform="translate(23.6,626) rotate(-90)" text-anchor="middle" font-size="27.2">Amplitude (a.u.)</text>
<text x="627.5" y="496.9" text-anchor="middle" font-size="26.5">(b)</text>
<text x="458.5" y="515.6" font-size="18.75">FFT (data)</text>
<text x="458.5" y="543.6" font-size="18.75">FFT (Exp model)</text>
<text x="458.5" y="572.1" font-size="18.75">FFT (PL model)</text>
</g>
</svg>
</body></html>
